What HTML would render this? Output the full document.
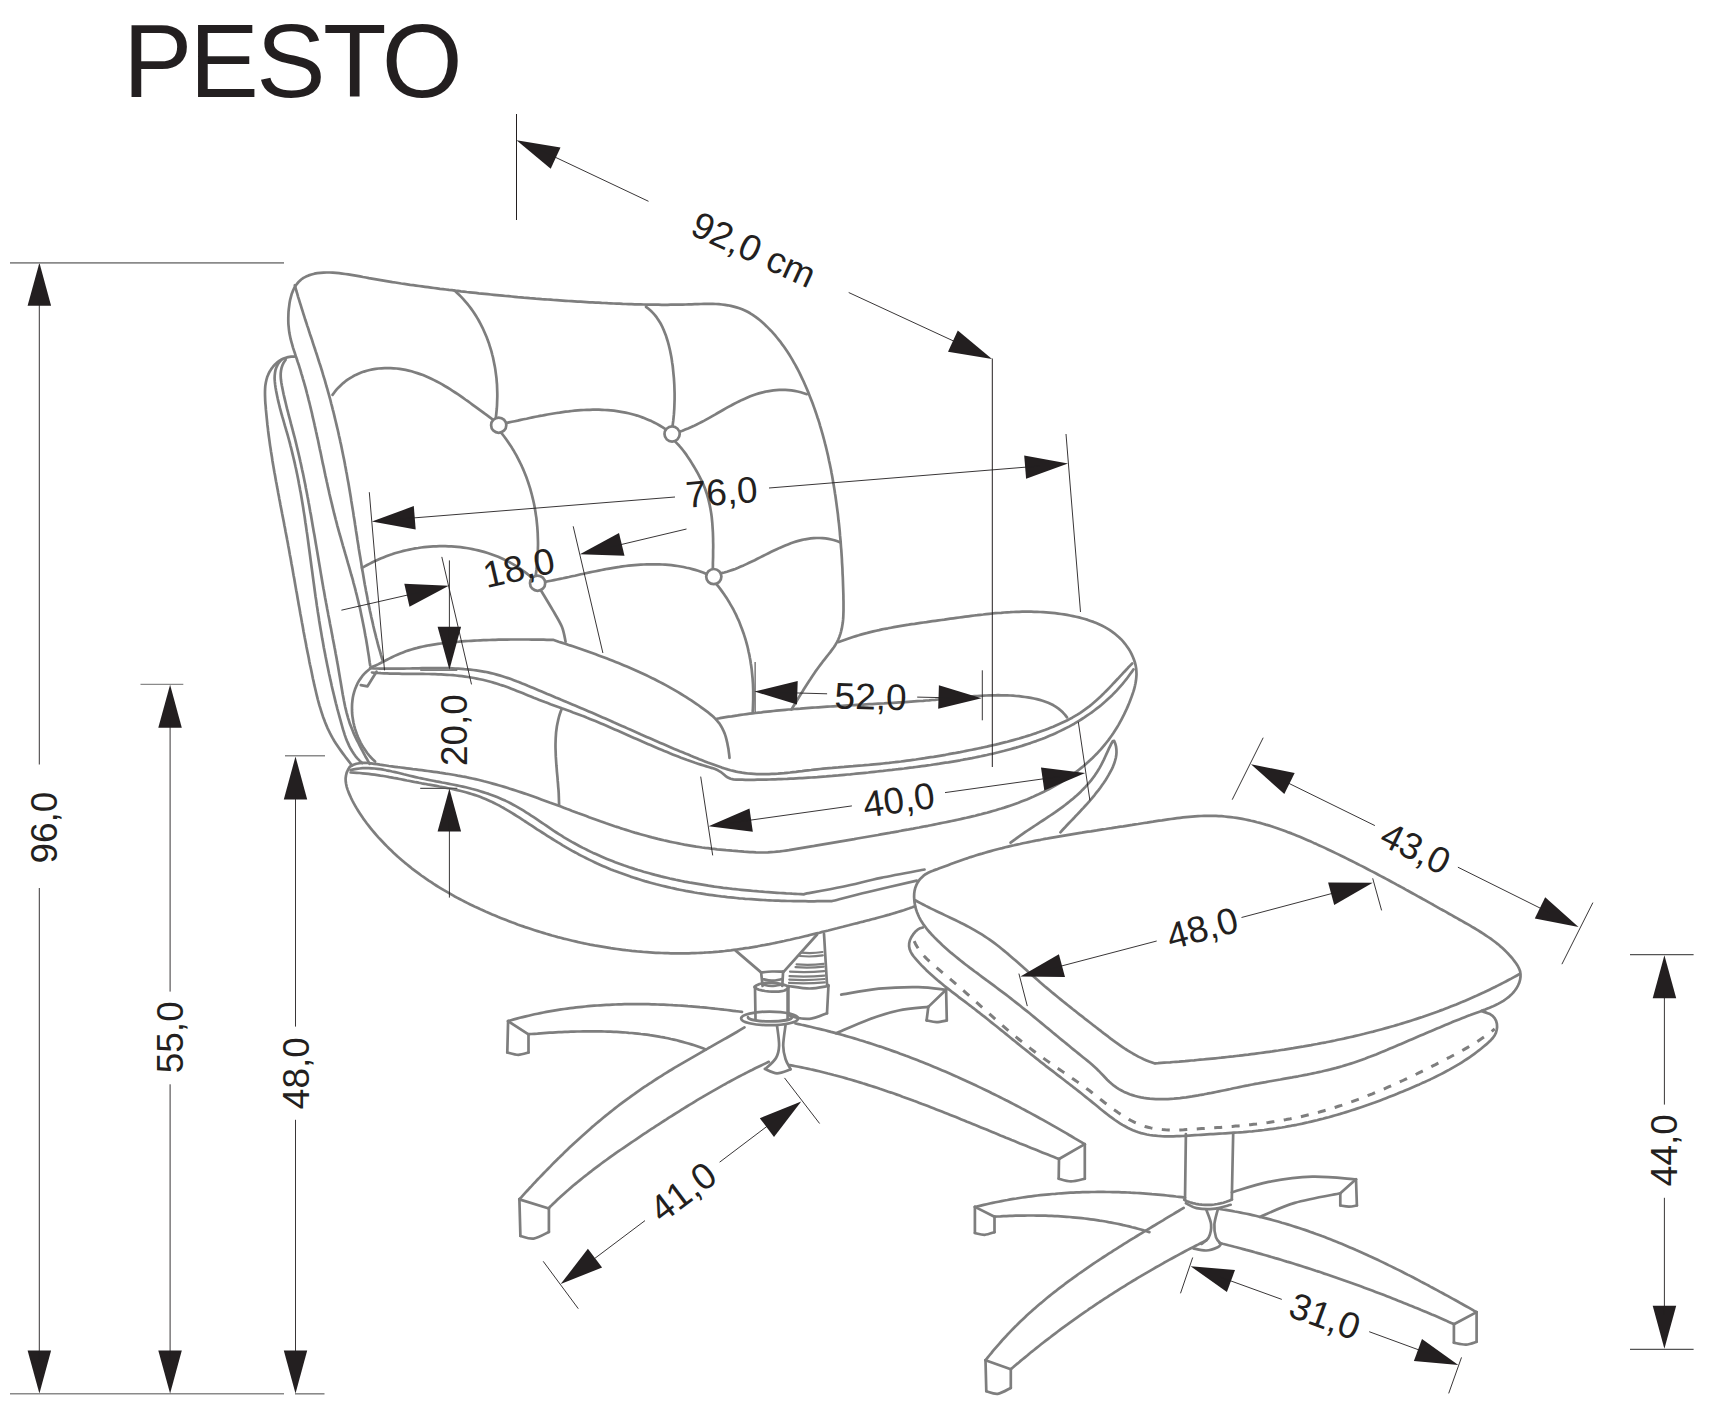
<!DOCTYPE html>
<html><head><meta charset="utf-8"><style>
html,body{margin:0;padding:0;background:#fff;overflow:hidden;width:1717px;height:1424px;}
svg{display:block;font-family:"Liberation Sans",sans-serif;}
</style></head><body>
<svg width="1717" height="1424" viewBox="0 0 1717 1424">
<rect width="1717" height="1424" fill="#fff"/>
<g id="chair" fill="none" stroke="#7e7e7e" stroke-width="2.7" stroke-linecap="round" stroke-linejoin="round">
<path d="M370.2,665.5 L369.7,662.5 L369.3,659.6 L368.9,656.6 L368.4,653.6 L367.9,650.6 L367.5,647.7 L367.0,644.7 L366.5,641.7 L366.0,638.8 L365.4,635.8 L364.9,632.9 L364.4,629.9 L363.8,627.0 L363.2,624.0 L362.6,621.1 L362.0,618.1 L361.4,615.2 L360.8,612.3 L360.2,609.3 L359.5,606.4 L358.8,603.5 L358.1,600.6 L357.4,597.7 L356.7,594.8 L355.9,591.8 L355.2,588.9 L354.4,586.0 L353.6,583.1 L352.9,580.2 L352.1,577.4 L351.2,574.5 L350.4,571.6 L349.6,568.7 L348.8,565.8 L347.9,562.9 L347.1,560.0 L346.3,557.1 L345.4,554.2 L344.6,551.4 L343.8,548.5 L342.9,545.6 L342.1,542.7 L341.3,539.8 L340.5,536.9 L339.6,534.0 L338.8,531.1 L338.0,528.2 L337.2,525.3 L336.5,522.4 L335.7,519.5 L335.0,516.6 L334.2,513.7 L333.5,510.8 L332.8,507.9 L332.1,504.9 L331.4,502.0 L330.7,499.1 L330.0,496.2 L329.3,493.2 L328.7,490.3 L328.0,487.4 L327.4,484.4 L326.7,481.5 L326.1,478.6 L325.4,475.6 L324.8,472.7 L324.2,469.7 L323.6,466.8 L322.9,463.9 L322.3,460.9 L321.7,458.0 L321.1,455.0 L320.5,452.1 L319.8,449.1 L319.2,446.2 L318.6,443.3 L318.0,440.3 L317.3,437.4 L316.7,434.4 L316.0,431.5 L315.4,428.6 L314.7,425.6 L314.1,422.7 L313.4,419.8 L312.7,416.9 L312.1,413.9 L311.4,411.0 L310.7,408.1 L310.0,405.2 L309.3,402.3 L308.5,399.3 L307.8,396.4 L307.0,393.5 L306.3,390.6 L305.5,387.7 L304.7,384.8 L303.9,382.0 L303.0,379.1 L302.2,376.2 L301.3,373.3 L300.5,370.4 L299.6,367.6 L298.7,364.7 L297.7,361.9 L296.8,359.0 L295.8,356.2 L294.9,353.3 L293.9,350.4 L293.0,347.6 L292.2,344.7 L291.4,341.8 L290.6,338.9 L290.0,336.0 L289.4,333.1 L289.0,330.1 L288.7,327.2 L288.4,324.1 L288.3,321.1 L288.3,318.1 L288.4,315.0 L288.5,312.0 L288.8,308.9 L289.2,305.8 L289.6,302.7 L290.2,299.6 L291.0,296.6 L291.8,293.7 L292.9,290.9 L294.1,288.3 L295.6,285.8 L297.3,283.5 L299.1,281.4 L301.2,279.5 L303.5,277.9 L306.0,276.6 L308.7,275.4 L311.5,274.5 L314.4,273.7 L317.3,273.2 L320.4,272.8 L323.5,272.6 L326.6,272.5 L329.7,272.5 L332.9,272.7 L336.0,272.9 L339.1,273.2 L342.2,273.6 L345.2,274.0 L348.3,274.4 L351.2,274.9 L354.2,275.4 L357.2,275.9 L360.1,276.4 L363.0,277.0 L366.0,277.5 L368.9,278.1 L371.8,278.6 L374.8,279.1 L377.7,279.6 L380.6,280.1 L383.6,280.6 L386.5,281.1 L389.5,281.6 L392.4,282.1 L395.4,282.5 L398.3,283.0 L401.3,283.5 L404.3,283.9 L407.2,284.3 L410.2,284.8 L413.2,285.2 L416.1,285.6 L419.1,286.0 L422.1,286.4 L425.1,286.8 L428.0,287.2 L431.0,287.6 L434.0,288.0 L437.0,288.4 L440.0,288.8 L443.0,289.1 L445.9,289.5 L448.9,289.9 L451.9,290.2 L454.9,290.6 L457.9,290.9 L460.9,291.3 L463.9,291.6 L466.8,292.0 L469.8,292.3 L472.8,292.6 L475.8,292.9 L478.8,293.3 L481.8,293.6 L484.8,293.9 L487.8,294.2 L490.8,294.5 L493.8,294.8 L496.8,295.1 L499.7,295.4 L502.7,295.7 L505.7,296.0 L508.7,296.2 L511.7,296.5 L514.7,296.8 L517.7,297.1 L520.7,297.3 L523.7,297.6 L526.7,297.8 L529.7,298.1 L532.7,298.3 L535.7,298.6 L538.7,298.8 L541.7,299.1 L544.7,299.3 L547.7,299.5 L550.7,299.7 L553.7,300.0 L556.7,300.2 L559.6,300.4 L562.6,300.6 L565.6,300.8 L568.6,301.0 L571.6,301.2 L574.6,301.4 L577.6,301.6 L580.6,301.7 L583.6,301.9 L586.6,302.1 L589.6,302.3 L592.6,302.4 L595.6,302.6 L598.6,302.7 L601.6,302.9 L604.6,303.0 L607.6,303.2 L610.6,303.3 L613.6,303.5 L616.6,303.6 L619.6,303.7 L622.6,303.9 L625.6,304.0 L628.6,304.1 L631.6,304.2 L634.6,304.3 L637.6,304.4 L640.6,304.4 L643.6,304.5 L646.6,304.6 L649.6,304.6 L652.6,304.7 L655.6,304.7 L658.6,304.7 L661.6,304.8 L664.6,304.8 L667.6,304.8 L670.7,304.7 L673.7,304.7 L676.7,304.7 L679.7,304.6 L682.7,304.6 L685.7,304.5 L688.8,304.4 L691.8,304.3 L694.8,304.2 L697.8,304.1 L700.9,304.0 L703.9,303.9 L706.9,303.8 L709.9,303.8 L712.9,303.9 L715.9,304.0 L718.9,304.2 L721.9,304.5 L724.9,304.8 L727.8,305.3 L730.8,305.9 L733.7,306.6 L736.5,307.4 L739.4,308.3 L742.1,309.3 L744.9,310.5 L747.5,311.8 L750.2,313.3 L752.7,314.9 L755.2,316.6 L757.6,318.4 L760.0,320.3 L762.3,322.3 L764.5,324.3 L766.7,326.4 L768.9,328.6 L771.0,330.7 L773.0,332.9 L775.0,335.2 L776.9,337.5 L778.8,339.8 L780.7,342.2 L782.4,344.6 L784.2,347.0 L785.9,349.5 L787.6,352.0 L789.2,354.5 L790.8,357.1 L792.3,359.6 L793.8,362.3 L795.3,364.9 L796.7,367.5 L798.1,370.2 L799.5,372.9 L800.8,375.6 L802.1,378.3 L803.4,381.0 L804.6,383.8 L805.8,386.5 L807.0,389.3 L808.2,392.1 L809.3,394.9 L810.4,397.7 L811.5,400.5 L812.6,403.3 L813.6,406.1 L814.6,408.9 L815.6,411.8 L816.6,414.6 L817.5,417.5 L818.5,420.3 L819.4,423.2 L820.2,426.1 L821.1,429.0 L821.9,431.8 L822.7,434.7 L823.5,437.6 L824.3,440.5 L825.0,443.4 L825.8,446.4 L826.5,449.3 L827.2,452.2 L827.9,455.1 L828.5,458.1 L829.1,461.0 L829.8,464.0 L830.4,466.9 L831.0,469.8 L831.5,472.8 L832.1,475.8 L832.6,478.7 L833.1,481.7 L833.6,484.6 L834.1,487.6 L834.6,490.6 L835.0,493.5 L835.5,496.5 L835.9,499.5 L836.3,502.4 L836.7,505.4 L837.1,508.4 L837.5,511.4 L837.9,514.3 L838.2,517.3 L838.5,520.3 L838.9,523.2 L839.2,526.2 L839.5,529.2 L839.8,532.2 L840.0,535.2 L840.3,538.2 L840.6,541.1 L840.8,544.1 L841.0,547.1 L841.3,550.1 L841.5,553.1 L841.7,556.1 L841.9,559.1 L842.0,562.1 L842.2,565.1 L842.4,568.1 L842.5,571.1 L842.6,574.2 L842.8,577.2 L842.9,580.2 L843.0,583.2 L843.1,586.3 L843.2,589.3 L843.3,592.3 L843.4,595.4 L843.4,598.4 L843.5,601.5 L843.5,604.5 L843.5,607.6 L843.5,610.6 L843.4,613.7 L843.3,616.7 L843.1,619.7 L842.8,622.6 L842.3,625.5 L841.8,628.4 L841.1,631.3 L840.3,634.1 L839.4,636.8 L838.3,639.5 L837.0,642.1 L835.5,644.7 L833.9,647.2 L832.1,649.6 L830.3,652.1 L828.4,654.5 L826.5,656.9 L824.6,659.3 L822.7,661.7 L820.9,664.1 L819.1,666.5 L817.3,669.0 L815.5,671.4 L813.8,673.9 L812.1,676.4 L810.5,678.9 L808.8,681.4 L807.2,683.9 L805.6,686.4 L804.0,689.0 L802.5,691.5 L800.9,694.0 L799.3,696.6 L797.8,699.1 L796.2,701.7 L794.7,704.3 L793.1,706.8 L791.5,709.4" />
<path d="M294.8,285.2 L295.6,288.1 L296.4,291.0 L297.3,293.9 L298.1,296.8 L299.0,299.7 L299.9,302.6 L300.8,305.4 L301.7,308.3 L302.6,311.2 L303.5,314.1 L304.4,316.9 L305.3,319.8 L306.3,322.7 L307.2,325.6 L308.2,328.4 L309.1,331.3 L310.0,334.2 L311.0,337.0 L312.0,339.9 L312.9,342.8 L313.8,345.6 L314.8,348.5 L315.7,351.4 L316.7,354.3 L317.6,357.1 L318.5,360.0 L319.4,362.9 L320.4,365.8 L321.3,368.6 L322.2,371.5 L323.0,374.4 L323.9,377.3 L324.8,380.2 L325.6,383.1 L326.4,386.0 L327.3,388.9 L328.1,391.8 L328.9,394.7 L329.7,397.6 L330.5,400.5 L331.2,403.5 L332.0,406.4 L332.7,409.3 L333.5,412.2 L334.2,415.1 L334.9,418.1 L335.6,421.0 L336.3,423.9 L337.0,426.9 L337.7,429.8 L338.4,432.8 L339.0,435.7 L339.7,438.6 L340.3,441.6 L341.0,444.5 L341.6,447.5 L342.2,450.4 L342.8,453.4 L343.4,456.4 L344.0,459.3 L344.6,462.3 L345.1,465.2 L345.7,468.2 L346.2,471.2 L346.8,474.1 L347.3,477.1 L347.8,480.1 L348.4,483.1 L348.9,486.0 L349.4,489.0 L349.9,492.0 L350.4,495.0 L350.9,498.0 L351.3,500.9 L351.8,503.9 L352.3,506.9 L352.8,509.9 L353.3,512.9 L353.7,515.9 L354.2,518.8 L354.7,521.8 L355.1,524.8 L355.6,527.8 L356.0,530.8 L356.5,533.8 L357.0,536.8 L357.4,539.7 L357.9,542.7 L358.4,545.7 L358.8,548.7 L359.3,551.7 L359.8,554.7 L360.3,557.6 L360.8,560.6 L361.3,563.6 L361.7,566.6 L362.2,569.6 L362.8,572.5 L363.3,575.5 L363.8,578.5 L364.3,581.5 L364.8,584.4 L365.4,587.4 L365.9,590.4 L366.5,593.3 L367.1,596.3 L367.6,599.3 L368.2,602.2 L368.8,605.2 L369.4,608.1 L370.0,611.1 L370.7,614.0 L371.3,617.0 L372.0,619.9 L372.7,622.9 L373.3,625.8 L374.0,628.8 L374.7,631.7 L375.5,634.6 L376.2,637.6 L377.0,640.5 L377.7,643.4 L378.5,646.3 L379.3,649.2 L380.2,652.1 L381.0,655.1 L381.9,658.0 L382.8,660.9" />
<path d="M294.5,356.6 L291.2,356.6 L288.1,357.1 L285.1,358.0 L282.3,359.1 L279.6,360.7 L277.2,362.4 L275.0,364.5 L273.0,366.7 L271.2,369.1 L269.6,371.7 L268.3,374.4 L267.2,377.1 L266.4,379.9 L265.8,382.8 L265.3,385.7 L265.1,388.6 L265.0,391.6 L265.0,394.6 L265.1,397.6 L265.2,400.6 L265.4,403.6 L265.7,406.7 L265.9,409.7 L266.2,412.7 L266.5,415.7 L266.8,418.7 L267.1,421.7 L267.4,424.7 L267.8,427.7 L268.1,430.7 L268.5,433.7 L268.9,436.7 L269.3,439.6 L269.7,442.6 L270.1,445.6 L270.6,448.6 L271.0,451.5 L271.5,454.5 L272.0,457.5 L272.4,460.5 L272.9,463.4 L273.4,466.4 L273.9,469.3 L274.4,472.3 L275.0,475.3 L275.5,478.2 L276.0,481.2 L276.6,484.1 L277.1,487.1 L277.7,490.0 L278.2,493.0 L278.8,495.9 L279.3,498.9 L279.9,501.8 L280.4,504.8 L281.0,507.7 L281.6,510.7 L282.1,513.6 L282.7,516.6 L283.3,519.5 L283.9,522.5 L284.4,525.4 L285.0,528.3 L285.5,531.3 L286.1,534.2 L286.7,537.2 L287.2,540.1 L287.8,543.1 L288.3,546.0 L288.9,549.0 L289.4,551.9 L289.9,554.9 L290.5,557.8 L291.0,560.8 L291.5,563.7 L292.1,566.7 L292.6,569.6 L293.1,572.6 L293.6,575.5 L294.2,578.5 L294.7,581.5 L295.2,584.4 L295.7,587.4 L296.2,590.3 L296.8,593.3 L297.3,596.2 L297.8,599.2 L298.3,602.1 L298.8,605.1 L299.4,608.1 L299.9,611.0 L300.4,614.0 L301.0,616.9 L301.5,619.9 L302.0,622.8 L302.6,625.8 L303.1,628.7 L303.6,631.7 L304.2,634.7 L304.7,637.6 L305.3,640.6 L305.9,643.5 L306.4,646.5 L307.0,649.4 L307.6,652.4 L308.2,655.3 L308.8,658.3 L309.3,661.2 L309.9,664.2 L310.6,667.2 L311.2,670.1 L311.8,673.1 L312.4,676.0 L313.0,679.0 L313.7,681.9 L314.3,684.9 L315.0,687.8 L315.7,690.7 L316.4,693.7 L317.1,696.6 L317.8,699.5 L318.6,702.4 L319.4,705.3 L320.3,708.2 L321.2,711.1 L322.1,713.9 L323.0,716.7 L324.1,719.5 L325.1,722.3 L326.3,725.1 L327.4,727.8 L328.7,730.5 L330.0,733.2 L331.4,735.8 L332.8,738.4 L334.3,741.0 L335.9,743.5 L337.6,746.0 L339.3,748.5 L341.0,750.9 L342.8,753.4 L344.6,755.8 L346.4,758.2 L348.3,760.6 L350.1,763.0 L351.8,765.4" />
<path d="M281.5,359.7 L279.4,362.1 L277.7,364.6 L276.4,367.3 L275.5,370.0 L275.0,372.8 L274.7,375.6 L274.6,378.5 L274.8,381.4 L275.1,384.4 L275.5,387.3 L276.0,390.3 L276.6,393.2 L277.2,396.2 L277.8,399.1 L278.5,402.1 L279.2,405.0 L279.9,407.9 L280.7,410.8 L281.5,413.8 L282.3,416.7 L283.2,419.6 L284.0,422.5 L284.8,425.4 L285.7,428.3 L286.5,431.2 L287.4,434.1 L288.2,437.0 L289.0,440.0 L289.8,442.9 L290.5,445.8 L291.3,448.7 L292.0,451.6 L292.7,454.6 L293.4,457.5 L294.1,460.4 L294.8,463.4 L295.4,466.3 L296.1,469.2 L296.7,472.2 L297.3,475.1 L297.9,478.1 L298.5,481.0 L299.0,484.0 L299.6,486.9 L300.1,489.9 L300.7,492.8 L301.2,495.8 L301.7,498.8 L302.2,501.7 L302.7,504.7 L303.2,507.7 L303.6,510.6 L304.1,513.6 L304.6,516.6 L305.0,519.5 L305.4,522.5 L305.9,525.5 L306.3,528.4 L306.7,531.4 L307.2,534.4 L307.6,537.4 L308.0,540.3 L308.4,543.3 L308.8,546.3 L309.2,549.3 L309.6,552.3 L310.0,555.2 L310.4,558.2 L310.8,561.2 L311.2,564.2 L311.6,567.2 L312.0,570.1 L312.4,573.1 L312.8,576.1 L313.2,579.1 L313.6,582.1 L314.0,585.0 L314.4,588.0 L314.8,591.0 L315.2,594.0 L315.6,597.0 L316.1,599.9 L316.5,602.9 L316.9,605.9 L317.4,608.9 L317.8,611.8 L318.3,614.8 L318.8,617.8 L319.2,620.8 L319.7,623.7 L320.2,626.7 L320.7,629.7 L321.2,632.6 L321.7,635.6 L322.2,638.6 L322.8,641.5 L323.3,644.5 L323.8,647.4 L324.4,650.4 L325.0,653.4 L325.5,656.3 L326.1,659.3 L326.7,662.2 L327.3,665.2 L327.9,668.1 L328.5,671.1 L329.1,674.0 L329.8,676.9 L330.4,679.9 L331.1,682.8 L331.7,685.7 L332.4,688.7 L333.1,691.6 L333.8,694.5 L334.5,697.4 L335.2,700.4 L335.9,703.3 L336.7,706.2 L337.4,709.1 L338.2,712.0 L339.0,714.9 L339.8,717.8 L340.6,720.7 L341.4,723.6 L342.2,726.5 L343.0,729.4 L343.9,732.2 L344.8,735.1 L345.8,737.9 L346.9,740.7 L348.1,743.4 L349.3,746.1 L350.7,748.8 L352.2,751.3 L353.8,753.8 L355.6,756.3 L357.6,758.6 L359.8,760.9 L362.1,763.1" />
<path d="M285.6,359.8 L283.8,362.4 L282.5,365.1 L281.6,367.8 L281.0,370.6 L280.7,373.5 L280.7,376.4 L280.9,379.3 L281.3,382.3 L281.8,385.3 L282.4,388.3 L283.0,391.2 L283.6,394.2 L284.3,397.1 L285.0,400.1 L285.7,403.0 L286.4,406.0 L287.1,408.9 L287.9,411.8 L288.6,414.7 L289.4,417.6 L290.2,420.5 L290.9,423.4 L291.7,426.4 L292.5,429.3 L293.2,432.2 L294.0,435.1 L294.8,438.0 L295.5,440.9 L296.2,443.8 L296.9,446.7 L297.6,449.6 L298.3,452.5 L299.0,455.5 L299.7,458.4 L300.3,461.3 L301.0,464.3 L301.6,467.2 L302.2,470.1 L302.9,473.1 L303.5,476.0 L304.1,478.9 L304.7,481.9 L305.3,484.8 L305.8,487.8 L306.4,490.7 L307.0,493.7 L307.5,496.6 L308.1,499.6 L308.6,502.5 L309.2,505.5 L309.7,508.4 L310.2,511.4 L310.8,514.3 L311.3,517.3 L311.8,520.3 L312.3,523.2 L312.8,526.2 L313.3,529.1 L313.8,532.1 L314.4,535.1 L314.9,538.0 L315.4,541.0 L315.9,543.9 L316.4,546.9 L316.9,549.9 L317.4,552.8 L317.9,555.8 L318.4,558.8 L318.9,561.7 L319.4,564.7 L319.9,567.6 L320.4,570.6 L320.9,573.6 L321.4,576.5 L321.9,579.5 L322.4,582.4 L322.9,585.4 L323.4,588.3 L324.0,591.3 L324.5,594.3 L325.0,597.2 L325.6,600.2 L326.1,603.1 L326.7,606.1 L327.2,609.0 L327.8,611.9 L328.3,614.9 L328.9,617.8 L329.5,620.8 L330.0,623.7 L330.6,626.7 L331.2,629.6 L331.7,632.6 L332.3,635.5 L332.8,638.5 L333.4,641.4 L334.0,644.4 L334.5,647.3 L335.1,650.3 L335.6,653.2 L336.2,656.2 L336.7,659.1 L337.2,662.1 L337.8,665.0 L338.3,668.0 L338.8,671.0 L339.3,673.9 L339.8,676.9 L340.3,679.9 L340.8,682.8 L341.3,685.8 L341.8,688.8 L342.3,691.7 L342.8,694.7 L343.4,697.7 L343.9,700.6 L344.5,703.6 L345.1,706.5 L345.8,709.4 L346.5,712.3 L347.3,715.2 L348.1,718.1 L349.0,720.9 L349.9,723.8 L351.0,726.6 L352.1,729.3 L353.2,732.1 L354.4,734.9 L355.7,737.6 L357.0,740.3 L358.4,743.0 L359.7,745.6 L361.1,748.3 L362.5,750.9 L363.9,753.6 L365.3,756.2 L366.8,758.7 L368.2,761.3 L369.6,763.8" />
<path d="M332.5,394.9 L334.5,392.2 L336.5,389.7 L338.6,387.4 L340.9,385.2 L343.2,383.1 L345.5,381.2 L348.0,379.4 L350.5,377.8 L353.1,376.3 L355.7,374.9 L358.4,373.7 L361.2,372.6 L364.0,371.6 L366.8,370.7 L369.7,370.0 L372.6,369.4 L375.6,368.9 L378.6,368.5 L381.5,368.3 L384.6,368.1 L387.6,368.1 L390.6,368.1 L393.6,368.3 L396.6,368.5 L399.6,368.9 L402.6,369.4 L405.6,369.9 L408.6,370.6 L411.5,371.3 L414.4,372.2 L417.3,373.1 L420.2,374.1 L423.0,375.1 L425.8,376.3 L428.6,377.5 L431.3,378.8 L434.1,380.1 L436.8,381.5 L439.5,382.9 L442.2,384.4 L444.8,386.0 L447.4,387.5 L450.1,389.2 L452.6,390.8 L455.2,392.5 L457.8,394.2 L460.3,395.9 L462.8,397.7 L465.3,399.5 L467.8,401.2 L470.3,403.0 L472.7,404.8 L475.2,406.6 L477.6,408.4 L480.0,410.2 L482.4,411.9 L484.8,413.7 L487.2,415.4 L489.5,417.1 L491.9,418.8" />
<path d="M454.6,290.6 L456.9,292.7 L459.1,294.8 L461.2,296.9 L463.3,299.1 L465.2,301.3 L467.2,303.6 L469.1,306.0 L470.9,308.4 L472.6,310.8 L474.3,313.3 L475.9,315.8 L477.5,318.4 L479.0,321.0 L480.4,323.6 L481.8,326.3 L483.1,329.0 L484.3,331.7 L485.5,334.5 L486.7,337.3 L487.7,340.1 L488.8,342.9 L489.7,345.8 L490.6,348.7 L491.5,351.6 L492.2,354.5 L493.0,357.5 L493.6,360.5 L494.2,363.4 L494.8,366.4 L495.3,369.4 L495.7,372.4 L496.1,375.4 L496.5,378.4 L496.7,381.5 L497.0,384.5 L497.1,387.5 L497.2,390.5 L497.3,393.6 L497.3,396.6 L497.2,399.6 L497.1,402.6 L497.0,405.6 L496.8,408.5 L496.5,411.5 L496.2,414.5 L495.9,417.4" />
<path d="M506.1,423.1 L509.0,422.4 L511.9,421.8 L514.8,421.2 L517.7,420.6 L520.7,419.9 L523.6,419.3 L526.6,418.7 L529.6,418.0 L532.5,417.4 L535.5,416.8 L538.5,416.2 L541.5,415.7 L544.5,415.1 L547.5,414.5 L550.5,414.0 L553.5,413.5 L556.6,413.0 L559.6,412.6 L562.6,412.1 L565.6,411.7 L568.7,411.4 L571.7,411.0 L574.7,410.7 L577.8,410.4 L580.8,410.2 L583.8,410.0 L586.8,409.9 L589.8,409.8 L592.9,409.7 L595.9,409.7 L598.9,409.7 L601.9,409.8 L604.9,410.0 L607.8,410.2 L610.8,410.4 L613.8,410.7 L616.8,411.1 L619.7,411.6 L622.6,412.1 L625.6,412.6 L628.5,413.3 L631.4,414.0 L634.3,414.8 L637.2,415.6 L640.0,416.6 L642.9,417.6 L645.7,418.7 L648.6,419.9 L651.4,421.1 L654.1,422.5 L656.9,423.9 L659.7,425.5 L662.4,427.1 L665.1,428.8" />
<path d="M646.0,306.9 L648.5,308.8 L650.8,310.8 L652.9,312.9 L654.9,315.1 L656.7,317.4 L658.4,319.9 L660.0,322.4 L661.4,325.0 L662.7,327.7 L663.9,330.4 L665.0,333.2 L666.1,336.1 L667.0,339.0 L667.9,341.9 L668.7,344.8 L669.4,347.8 L670.1,350.8 L670.7,353.8 L671.3,356.8 L671.8,359.9 L672.2,362.9 L672.7,366.0 L673.0,369.0 L673.3,372.1 L673.6,375.1 L673.9,378.2 L674.1,381.2 L674.3,384.3 L674.4,387.3 L674.5,390.3 L674.6,393.3 L674.6,396.4 L674.6,399.4 L674.5,402.4 L674.4,405.4 L674.3,408.4 L674.1,411.4 L673.9,414.4 L673.6,417.4 L673.3,420.4 L672.9,423.4 L672.5,426.5" />
<path d="M679.7,431.6 L682.5,430.7 L685.2,429.6 L688.0,428.5 L690.8,427.3 L693.5,426.1 L696.2,424.8 L698.9,423.4 L701.6,422.0 L704.3,420.6 L707.0,419.1 L709.7,417.6 L712.3,416.1 L715.0,414.6 L717.7,413.0 L720.4,411.5 L723.0,410.0 L725.7,408.4 L728.4,406.9 L731.1,405.5 L733.8,404.0 L736.5,402.6 L739.3,401.2 L742.0,399.9 L744.8,398.7 L747.5,397.5 L750.3,396.3 L753.1,395.3 L756.0,394.3 L758.8,393.4 L761.7,392.6 L764.6,391.9 L767.5,391.3 L770.4,390.8 L773.4,390.4 L776.3,390.1 L779.3,389.9 L782.3,389.8 L785.3,389.9 L788.4,390.1 L791.4,390.4 L794.5,390.9 L797.6,391.5 L800.7,392.3 L803.8,393.2 L806.9,394.2" />
<path d="M501.1,432.6 L503.0,435.0 L504.9,437.5 L506.7,440.0 L508.4,442.5 L510.1,445.0 L511.8,447.6 L513.4,450.2 L514.9,452.8 L516.4,455.4 L517.8,458.1 L519.2,460.8 L520.5,463.5 L521.8,466.2 L523.0,468.9 L524.2,471.7 L525.3,474.5 L526.4,477.3 L527.4,480.1 L528.4,483.0 L529.3,485.8 L530.2,488.7 L531.0,491.6 L531.8,494.5 L532.5,497.4 L533.2,500.3 L533.9,503.3 L534.5,506.2 L535.0,509.2 L535.5,512.2 L535.9,515.1 L536.4,518.1 L536.7,521.1 L537.0,524.1 L537.3,527.1 L537.5,530.2 L537.7,533.2 L537.8,536.2 L537.9,539.2 L538.0,542.3 L538.0,545.3 L537.9,548.3 L537.9,551.3 L537.7,554.4 L537.6,557.4 L537.4,560.4 L537.1,563.5 L536.8,566.5 L536.5,569.5 L536.1,572.5 L535.7,575.5" />
<path d="M675.1,441.4 L677.2,443.6 L679.3,445.8 L681.3,448.1 L683.2,450.5 L685.0,452.9 L686.8,455.4 L688.5,457.9 L690.2,460.5 L691.8,463.1 L693.4,465.7 L695.0,468.4 L696.5,471.0 L698.0,473.7 L699.4,476.4 L700.8,479.1 L702.2,481.9 L703.4,484.6 L704.6,487.5 L705.6,490.3 L706.6,493.2 L707.5,496.1 L708.3,499.0 L709.0,501.9 L709.7,504.9 L710.3,507.9 L710.8,510.9 L711.3,513.9 L711.7,516.9 L712.0,520.0 L712.3,523.1 L712.5,526.1 L712.7,529.2 L712.9,532.3 L713.0,535.4 L713.1,538.5 L713.1,541.5 L713.2,544.6 L713.2,547.7 L713.1,550.8 L713.1,553.9 L713.1,556.9 L713.0,560.0 L712.9,563.0 L712.9,566.0 L712.8,569.0" />
<path d="M362.1,567.9 L364.7,566.4 L367.2,565.0 L369.9,563.6 L372.5,562.2 L375.2,560.9 L377.9,559.7 L380.6,558.5 L383.4,557.4 L386.2,556.3 L389.0,555.2 L391.9,554.3 L394.7,553.3 L397.6,552.5 L400.5,551.7 L403.4,550.9 L406.4,550.2 L409.3,549.6 L412.3,549.0 L415.2,548.4 L418.2,548.0 L421.2,547.5 L424.2,547.2 L427.2,546.9 L430.2,546.6 L433.3,546.4 L436.3,546.3 L439.3,546.2 L442.3,546.1 L445.4,546.2 L448.4,546.3 L451.4,546.4 L454.4,546.6 L457.4,546.9 L460.5,547.2 L463.4,547.6 L466.4,548.0 L469.4,548.5 L472.4,549.1 L475.3,549.7 L478.2,550.4 L481.1,551.1 L484.0,551.9 L486.9,552.8 L489.8,553.7 L492.6,554.7 L495.4,555.7 L498.2,556.8 L500.9,558.0 L503.6,559.3 L506.3,560.6 L509.0,561.9 L511.6,563.4 L514.2,564.9 L516.7,566.4 L519.3,568.1 L521.7,569.8 L524.2,571.5 L526.6,573.4 L528.9,575.3 L531.2,577.2" />
<path d="M545.0,581.9 L548.0,581.3 L551.0,580.7 L554.0,580.1 L557.0,579.5 L560.0,578.9 L563.0,578.3 L566.0,577.6 L568.9,577.0 L571.9,576.3 L574.9,575.7 L577.9,575.0 L580.8,574.3 L583.8,573.7 L586.8,573.0 L589.7,572.4 L592.7,571.8 L595.7,571.2 L598.6,570.6 L601.6,570.0 L604.6,569.4 L607.6,568.8 L610.6,568.3 L613.5,567.8 L616.5,567.3 L619.5,566.9 L622.5,566.4 L625.6,566.0 L628.6,565.7 L631.6,565.4 L634.6,565.1 L637.7,564.8 L640.7,564.6 L643.8,564.5 L646.9,564.3 L649.9,564.3 L653.0,564.3 L656.1,564.3 L659.2,564.4 L662.2,564.5 L665.3,564.7 L668.4,564.9 L671.4,565.2 L674.5,565.6 L677.5,566.0 L680.5,566.5 L683.5,567.0 L686.5,567.7 L689.4,568.3 L692.3,569.1 L695.2,569.9 L698.1,570.7 L700.9,571.7 L703.7,572.8 L706.4,574.0" />
<path d="M721.4,573.1 L724.2,572.5 L727.0,571.7 L729.8,570.8 L732.5,569.9 L735.3,568.9 L738.1,567.8 L740.8,566.6 L743.6,565.4 L746.4,564.1 L749.1,562.8 L751.9,561.5 L754.7,560.2 L757.4,558.8 L760.2,557.4 L762.9,556.0 L765.7,554.6 L768.5,553.2 L771.3,551.8 L774.0,550.5 L776.8,549.2 L779.6,547.9 L782.4,546.7 L785.2,545.5 L788.0,544.4 L790.8,543.3 L793.7,542.3 L796.5,541.4 L799.3,540.6 L802.2,539.9 L805.1,539.3 L807.9,538.8 L810.8,538.4 L813.7,538.1 L816.7,538.0 L819.6,538.0 L822.5,538.1 L825.5,538.4 L828.5,538.9 L831.4,539.5 L834.4,540.3 L837.5,541.3 L840.5,542.4" />
<path d="M541.0,590.5C542.9,593.7 549.1,603.9 552.6,609.9C556.1,615.9 559.7,621.5 561.9,626.8C564.1,632.1 565.0,639.3 565.6,641.8" />
<path d="M716.6,584.3 L718.5,586.7 L720.4,589.1 L722.2,591.6 L723.9,594.0 L725.6,596.6 L727.3,599.1 L728.9,601.7 L730.4,604.3 L731.9,606.9 L733.4,609.5 L734.7,612.2 L736.1,614.9 L737.3,617.6 L738.6,620.3 L739.7,623.1 L740.8,625.9 L741.9,628.7 L742.9,631.5 L743.9,634.3 L744.8,637.2 L745.7,640.0 L746.5,642.9 L747.3,645.8 L748.0,648.7 L748.6,651.7 L749.3,654.6 L749.8,657.5 L750.4,660.5 L750.8,663.5 L751.3,666.5 L751.7,669.5 L752.0,672.5 L752.3,675.5 L752.6,678.5 L752.8,681.5 L753.0,684.5 L753.1,687.5 L753.2,690.5 L753.2,693.6 L753.2,696.6 L753.2,699.6 L753.1,702.7 L753.0,705.7 L752.9,708.7 L752.7,711.7" />
<path d="M370.2,667.8 L373.0,666.6 L375.7,665.4 L378.5,664.1 L381.2,662.7 L383.9,661.4 L386.5,660.0 L389.2,658.6 L391.9,657.2 L394.7,655.9 L397.4,654.7 L400.2,653.5 L403.0,652.4 L405.8,651.3 L408.6,650.4 L411.5,649.5 L414.4,648.6 L417.3,647.9 L420.2,647.1 L423.1,646.5 L426.0,645.9 L429.0,645.3 L432.0,644.8 L435.0,644.3 L438.0,643.9 L441.0,643.5 L444.0,643.1 L447.0,642.8 L450.0,642.5 L453.0,642.2 L456.1,641.9 L459.1,641.7 L462.1,641.4 L465.1,641.2 L468.2,641.0 L471.2,640.8 L474.2,640.6 L477.2,640.5 L480.3,640.3 L483.3,640.2 L486.3,640.1 L489.3,640.0 L492.4,639.9 L495.4,639.8 L498.4,639.7 L501.4,639.7 L504.5,639.6 L507.5,639.6 L510.5,639.5 L513.5,639.5 L516.5,639.5 L519.6,639.5 L522.6,639.5 L525.6,639.5 L528.6,639.5 L531.7,639.6 L534.7,639.6 L537.7,639.6 L540.7,639.7 L543.7,639.7 L546.8,639.8 L549.8,639.8 L552.8,639.9 M553.0,639.8 L555.8,640.7 L558.6,641.7 L561.5,642.6 L564.3,643.5 L567.2,644.4 L570.0,645.4 L572.9,646.3 L575.7,647.3 L578.6,648.3 L581.5,649.3 L584.3,650.2 L587.2,651.3 L590.0,652.3 L592.9,653.3 L595.7,654.3 L598.6,655.4 L601.4,656.4 L604.3,657.5 L607.1,658.6 L610.0,659.7 L612.8,660.8 L615.6,661.9 L618.5,663.1 L621.3,664.2 L624.1,665.4 L626.9,666.6 L629.7,667.8 L632.5,669.0 L635.3,670.2 L638.1,671.5 L640.8,672.7 L643.6,674.0 L646.4,675.3 L649.1,676.6 L651.8,678.0 L654.6,679.3 L657.3,680.7 L660.0,682.1 L662.7,683.5 L665.3,684.9 L668.0,686.4 L670.6,687.9 L673.3,689.4 L675.9,690.9 L678.5,692.4 L681.1,694.0 L683.7,695.6 L686.2,697.2 L688.8,698.8 L691.3,700.4 L693.8,702.1 L696.3,703.8 L698.8,705.5 L701.2,707.3 L703.7,709.1 L706.1,710.9 L708.5,712.7 L710.8,714.6 L713.1,716.5 L715.2,718.6 L717.2,720.8 L719.1,723.1 L720.7,725.5 L722.2,728.1 L723.5,730.8 L724.7,733.6 L725.7,736.6 L726.5,739.6 L727.2,742.6 L727.8,745.7 L728.4,748.7 L728.8,751.8 L729.2,754.8 L729.5,757.8" />
<path d="M371.0,668.2 L373.9,668.4 L376.9,668.5 L379.8,668.6 L382.8,668.7 L385.8,668.7 L388.8,668.7 L391.8,668.7 L394.8,668.7 L397.8,668.7 L400.8,668.6 L403.8,668.6 L406.9,668.5 L409.9,668.5 L412.9,668.4 L416.0,668.3 L419.0,668.3 L422.0,668.2 L425.1,668.2 L428.1,668.1 L431.1,668.1 L434.2,668.1 L437.2,668.1 L440.2,668.1 L443.3,668.1 L446.3,668.2 L449.3,668.2 L452.3,668.3 L455.3,668.5 L458.3,668.6 L461.3,668.8 L464.3,669.1 L467.3,669.3 L470.3,669.6 L473.3,670.0 L476.2,670.4 L479.2,670.8 L482.1,671.3 L485.0,671.8 L488.0,672.4 L490.9,673.1 L493.8,673.8 L496.7,674.6 L499.5,675.4 L502.4,676.3 L505.3,677.2 L508.1,678.1 L510.9,679.1 L513.8,680.2 L516.6,681.3 L519.4,682.3 L522.2,683.5 L525.0,684.6 L527.8,685.8 L530.6,686.9 L533.4,688.1 L536.2,689.3 L539.0,690.5 L541.7,691.6 L544.5,692.8 L547.3,694.0 L550.1,695.1 L552.9,696.3 L555.6,697.5 L558.4,698.6 L561.2,699.8 L564.0,700.9 L566.7,702.1 L569.5,703.2 L572.3,704.4 L575.0,705.5 L577.8,706.7 L580.6,707.9 L583.3,709.0 L586.1,710.2 L588.8,711.4 L591.6,712.6 L594.4,713.8 L597.1,715.0 L599.9,716.2 L602.6,717.4 L605.4,718.6 L608.1,719.8 L610.9,721.0 L613.6,722.3 L616.4,723.5 L619.1,724.7 L621.9,725.9 L624.6,727.1 L627.4,728.4 L630.1,729.6 L632.9,730.8 L635.6,732.0 L638.4,733.2 L641.1,734.5 L643.9,735.7 L646.6,736.9 L649.4,738.1 L652.2,739.3 L654.9,740.5 L657.7,741.7 L660.4,742.9 L663.2,744.1 L666.0,745.3 L668.7,746.5 L671.5,747.7 L674.3,748.9 L677.0,750.0 L679.8,751.2 L682.6,752.3 L685.4,753.5 L688.2,754.6 L690.9,755.8 L693.7,756.9 L696.5,758.0 L699.3,759.2 L702.1,760.3 L704.9,761.4 L707.7,762.5 L710.5,763.5 L713.4,764.6 L716.2,765.6 L719.0,766.6 L721.8,767.6 L724.7,768.5 L727.6,769.4 L730.4,770.2 L733.3,770.9 L736.2,771.6 L739.1,772.2 L742.1,772.7 L745.0,773.1 L748.0,773.5 L750.9,773.7 L753.9,773.9 L756.9,774.1 L759.9,774.2 L762.9,774.2 L765.9,774.2 L768.9,774.1 L771.9,773.9 L774.9,773.8 L777.9,773.6 L780.9,773.3 L784.0,773.1 L787.0,772.8 L790.0,772.5 L793.0,772.1 L796.0,771.8 L799.0,771.4 L802.1,771.1 L805.1,770.7 L808.1,770.3 L811.1,770.0 L814.1,769.6 L817.1,769.3 L820.1,769.0 L823.1,768.7 L826.2,768.4 L829.2,768.1 L832.2,767.9 L835.2,767.6 L838.2,767.4 L841.2,767.1 L844.1,766.9 L847.1,766.6 L850.1,766.4 L853.1,766.2 L856.1,765.9 L859.1,765.7 L862.1,765.5 L865.1,765.2 L868.1,765.0 L871.1,764.7 L874.0,764.4 L877.0,764.1 L880.0,763.8 L883.0,763.5 L886.0,763.2 L889.0,762.9 L892.0,762.5 L894.9,762.2 L897.9,761.8 L900.9,761.5 L903.9,761.1 L906.9,760.7 L909.8,760.3 L912.8,759.9 L915.8,759.5 L918.8,759.0 L921.7,758.6 L924.7,758.2 L927.7,757.7 L930.7,757.2 L933.6,756.8 L936.6,756.3 L939.6,755.8 L942.5,755.3 L945.5,754.8 L948.5,754.2 L951.4,753.7 L954.4,753.2 L957.4,752.6 L960.3,752.1 L963.3,751.5 L966.2,750.9 L969.2,750.3 L972.1,749.7 L975.1,749.1 L978.1,748.5 L981.0,747.9 L984.0,747.2 L986.9,746.6 L989.8,745.9 L992.8,745.2 L995.7,744.6 L998.7,743.9 L1001.6,743.1 L1004.5,742.4 L1007.4,741.7 L1010.4,740.9 L1013.3,740.1 L1016.2,739.3 L1019.1,738.5 L1022.0,737.6 L1024.8,736.8 L1027.7,735.9 L1030.6,735.0 L1033.4,734.0 L1036.3,733.1 L1039.1,732.1 L1041.9,731.0 L1044.8,730.0 L1047.6,728.9 L1050.4,727.8 L1053.2,726.7 L1055.9,725.5 L1058.7,724.3 L1061.4,723.1 L1064.2,721.8 L1066.9,720.5 L1069.5,719.1 L1072.2,717.7 L1074.8,716.2 L1077.4,714.7 L1079.9,713.1 L1082.4,711.4 L1084.8,709.7 L1087.2,707.9 L1089.6,706.1 L1091.9,704.2 L1094.2,702.2 L1096.5,700.2 L1098.7,698.2 L1100.9,696.2 L1103.1,694.1 L1105.2,691.9 L1107.4,689.8 L1109.5,687.6 L1111.6,685.4 L1113.6,683.2 L1115.7,681.0 L1117.8,678.8 L1119.8,676.6 L1121.9,674.4 L1123.9,672.2 L1126.0,670.0 L1128.0,667.8 L1130.1,665.6 L1132.2,663.5" />
<path d="M372.0,672.5 L375.0,672.8 L378.0,673.0 L381.0,673.2 L384.0,673.3 L387.0,673.4 L390.0,673.6 L393.0,673.6 L396.0,673.7 L399.0,673.7 L402.0,673.8 L405.0,673.8 L408.0,673.8 L411.0,673.8 L414.0,673.9 L417.0,673.9 L420.0,673.9 L423.0,673.9 L426.0,674.0 L429.0,674.0 L432.0,674.1 L435.0,674.2 L438.0,674.3 L441.0,674.4 L444.0,674.6 L447.0,674.8 L450.0,675.0 L453.0,675.2 L456.0,675.5 L459.0,675.8 L462.0,676.2 L465.0,676.6 L468.0,677.0 L470.9,677.5 L473.9,678.0 L476.8,678.6 L479.8,679.2 L482.7,679.8 L485.6,680.5 L488.5,681.2 L491.4,682.0 L494.3,682.9 L497.2,683.7 L500.0,684.7 L502.9,685.6 L505.7,686.6 L508.5,687.6 L511.3,688.7 L514.1,689.8 L516.9,690.9 L519.7,692.0 L522.5,693.1 L525.3,694.3 L528.1,695.4 L530.9,696.5 L533.7,697.7 L536.5,698.8 L539.3,699.9 L542.1,701.0 L544.9,702.1 L547.7,703.1 L550.5,704.2 L553.3,705.2 L556.1,706.2 L559.0,707.2 L561.8,708.3 L564.6,709.3 L567.4,710.3 L570.3,711.3 L573.1,712.4 L575.9,713.4 L578.7,714.5 L581.5,715.6 L584.3,716.6 L587.1,717.8 L589.9,718.9 L592.6,720.0 L595.4,721.1 L598.2,722.3 L601.0,723.5 L603.7,724.6 L606.5,725.8 L609.2,727.0 L612.0,728.2 L614.7,729.4 L617.5,730.6 L620.2,731.8 L623.0,733.0 L625.7,734.2 L628.5,735.5 L631.2,736.7 L634.0,737.9 L636.7,739.1 L639.5,740.3 L642.2,741.5 L645.0,742.7 L647.7,743.9 L650.5,745.1 L653.2,746.3 L656.0,747.5 L658.8,748.7 L661.5,749.8 L664.3,751.0 L667.1,752.1 L669.8,753.3 L672.6,754.4 L675.4,755.5 L678.2,756.6 L681.0,757.7 L683.8,758.7 L686.6,759.8 L689.4,760.8 L692.3,761.8 L695.1,762.8 L697.9,763.7 L700.8,764.6 L703.7,765.5 L706.5,766.4 L709.4,767.2 L712.3,768.1 L715.1,769.1 L717.9,770.3 L720.5,771.8 L723.0,773.7 L725.4,775.8 L727.9,777.6 L730.6,778.8 L733.4,779.4 L736.3,779.7 L739.3,779.7 L742.3,779.7 L745.3,779.8 L748.3,779.8 L751.3,779.8 L754.3,779.8 L757.2,779.7 L760.2,779.7 L763.2,779.6 L766.2,779.6 L769.2,779.5 L772.2,779.4 L775.2,779.3 L778.2,779.2 L781.2,779.1 L784.2,779.0 L787.2,778.9 L790.2,778.7 L793.2,778.6 L796.3,778.4 L799.3,778.2 L802.3,778.1 L805.3,777.9 L808.3,777.7 L811.3,777.5 L814.3,777.3 L817.3,777.1 L820.3,776.8 L823.3,776.6 L826.3,776.4 L829.3,776.1 L832.3,775.9 L835.3,775.6 L838.3,775.4 L841.3,775.1 L844.3,774.8 L847.3,774.5 L850.3,774.3 L853.3,774.0 L856.3,773.7 L859.3,773.4 L862.3,773.1 L865.3,772.8 L868.3,772.5 L871.3,772.1 L874.3,771.8 L877.2,771.5 L880.2,771.2 L883.2,770.9 L886.2,770.5 L889.2,770.2 L892.1,769.9 L895.1,769.5 L898.1,769.2 L901.1,768.8 L904.0,768.5 L907.0,768.1 L910.0,767.7 L912.9,767.4 L915.9,767.0 L918.8,766.6 L921.8,766.2 L924.8,765.8 L927.7,765.4 L930.7,765.0 L933.6,764.5 L936.6,764.1 L939.5,763.7 L942.5,763.2 L945.4,762.7 L948.4,762.3 L951.3,761.8 L954.3,761.3 L957.3,760.8 L960.2,760.3 L963.2,759.7 L966.1,759.2 L969.1,758.6 L972.0,758.1 L975.0,757.5 L977.9,756.9 L980.9,756.3 L983.8,755.6 L986.8,755.0 L989.7,754.3 L992.7,753.7 L995.6,753.0 L998.5,752.3 L1001.5,751.5 L1004.4,750.8 L1007.3,750.0 L1010.3,749.2 L1013.2,748.4 L1016.1,747.6 L1019.0,746.7 L1021.9,745.9 L1024.8,744.9 L1027.6,744.0 L1030.5,743.1 L1033.3,742.1 L1036.2,741.1 L1039.0,740.0 L1041.8,739.0 L1044.6,737.9 L1047.4,736.7 L1050.1,735.6 L1052.9,734.4 L1055.6,733.2 L1058.3,731.9 L1061.0,730.6 L1063.7,729.3 L1066.4,727.9 L1069.0,726.6 L1071.7,725.1 L1074.3,723.7 L1076.8,722.2 L1079.4,720.6 L1081.9,719.0 L1084.4,717.4 L1086.9,715.7 L1089.4,714.0 L1091.8,712.3 L1094.2,710.5 L1096.6,708.7 L1099.0,706.9 L1101.3,705.0 L1103.6,703.0 L1105.8,701.1 L1108.0,699.0 L1110.2,697.0 L1112.4,694.9 L1114.5,692.8 L1116.6,690.6 L1118.6,688.4 L1120.6,686.1 L1122.6,683.9 L1124.5,681.5 L1126.4,679.2 L1128.2,676.8 L1130.0,674.3 L1131.8,671.9 L1133.5,669.3" />
<path d="M371.3,667.8 L368.8,669.7 L366.4,671.7 L364.2,673.9 L362.2,676.2 L360.5,678.6 L358.8,681.1 L357.4,683.7 L356.2,686.4 L355.1,689.1 L354.2,691.9 L353.4,694.8 L352.8,697.8 L352.4,700.8 L352.1,703.8 L352.0,706.8 L352.0,709.9 L352.1,713.0 L352.4,716.1 L352.9,719.2 L353.4,722.3 L354.1,725.3 L354.9,728.4 L355.9,731.4 L356.9,734.3 L358.1,737.2 L359.4,740.0 L360.7,742.8 L362.2,745.5 L363.8,748.1 L365.5,750.6 L367.2,753.0 L369.1,755.4 L371.0,757.5 L373.0,759.6 L375.1,761.5" />
<path d="M376.5,671.7 L370.9,680.7 L367.5,686.3 L360.8,685.2" />
<path d="M561.7,708.9 L560.6,711.7 L559.6,714.6 L558.8,717.5 L558.1,720.4 L557.5,723.3 L556.9,726.3 L556.5,729.2 L556.1,732.2 L555.9,735.2 L555.7,738.2 L555.6,741.2 L555.5,744.2 L555.5,747.2 L555.6,750.3 L555.7,753.3 L555.8,756.4 L556.0,759.4 L556.2,762.5 L556.4,765.5 L556.7,768.6 L556.9,771.6 L557.2,774.7 L557.5,777.7 L557.7,780.7 L558.0,783.8 L558.2,786.8 L558.5,789.8 L558.7,792.8 L558.8,795.8 L558.9,798.8 L559.0,801.8 L559.1,804.8" />
<path d="M838.7,642.1 L841.5,641.0 L844.4,640.0 L847.2,639.0 L850.1,638.0 L853.0,637.0 L855.9,636.1 L858.7,635.3 L861.6,634.4 L864.5,633.6 L867.4,632.9 L870.3,632.1 L873.3,631.4 L876.2,630.7 L879.1,630.1 L882.0,629.4 L885.0,628.8 L887.9,628.3 L890.9,627.7 L893.8,627.1 L896.8,626.6 L899.7,626.1 L902.7,625.6 L905.7,625.1 L908.6,624.7 L911.6,624.2 L914.6,623.8 L917.5,623.3 L920.5,622.9 L923.5,622.5 L926.5,622.1 L929.5,621.6 L932.4,621.2 L935.4,620.8 L938.4,620.4 L941.4,620.0 L944.4,619.6 L947.4,619.1 L950.3,618.7 L953.3,618.3 L956.3,617.9 L959.3,617.5 L962.3,617.1 L965.3,616.7 L968.3,616.3 L971.3,615.9 L974.3,615.5 L977.2,615.2 L980.2,614.8 L983.2,614.5 L986.2,614.1 L989.2,613.8 L992.2,613.5 L995.2,613.2 L998.2,613.0 L1001.2,612.8 L1004.2,612.5 L1007.2,612.3 L1010.2,612.2 L1013.1,612.0 L1016.1,611.9 L1019.1,611.8 L1022.1,611.7 L1025.1,611.7 L1028.1,611.7 L1031.1,611.7 L1034.1,611.8 L1037.1,611.9 L1040.1,612.0 L1043.1,612.2 L1046.1,612.4 L1049.1,612.6 L1052.1,612.9 L1055.1,613.2 L1058.1,613.6 L1061.1,614.0 L1064.0,614.4 L1067.0,614.9 L1070.0,615.5 L1073.0,616.1 L1076.0,616.7 L1079.0,617.4 L1081.9,618.2 L1084.9,619.0 L1087.8,619.9 L1090.6,620.9 L1093.5,621.9 L1096.3,623.1 L1099.0,624.3 L1101.7,625.5 L1104.4,626.9 L1107.0,628.4 L1109.5,629.9 L1112.0,631.6 L1114.3,633.3 L1116.6,635.2 L1118.9,637.2 L1121.0,639.2 L1123.0,641.4 L1125.0,643.8 L1126.8,646.2 L1128.6,648.8 L1130.2,651.4 L1131.6,654.1 L1132.9,657.0 L1134.0,659.8 L1135.0,662.7 L1135.7,665.6 L1136.2,668.6 L1136.4,671.5 L1136.5,674.4 L1136.3,677.3 L1136.0,680.3 L1135.5,683.2 L1134.9,686.1 L1134.2,689.0 L1133.3,691.9 L1132.3,694.7 L1131.3,697.6 L1130.2,700.4 L1129.1,703.3 L1127.9,706.1 L1126.7,708.9 L1125.4,711.6 L1124.1,714.4 L1122.7,717.1 L1121.3,719.8 L1119.9,722.4 L1118.4,725.1 L1116.8,727.7 L1115.2,730.2 L1113.6,732.8 L1111.9,735.3 L1110.1,737.7 L1108.4,740.1 L1106.5,742.5 L1104.6,744.8 L1102.7,747.1 L1100.8,749.4 L1098.7,751.6 L1096.7,753.8 L1094.6,755.9 L1092.5,758.0 L1090.3,760.1 L1088.1,762.1 L1085.9,764.0 L1083.6,766.0 L1081.3,767.9 L1078.9,769.8 L1076.6,771.6 L1074.2,773.4 L1071.7,775.1 L1069.3,776.8 L1066.8,778.5 L1064.3,780.2 L1061.7,781.8 L1059.2,783.3 L1056.6,784.9 L1054.0,786.4 L1051.3,787.8 L1048.7,789.2 L1046.0,790.6 L1043.3,792.0 L1040.6,793.3 L1037.9,794.6 L1035.2,795.8 L1032.4,797.1 L1029.7,798.2 L1026.9,799.4 L1024.1,800.5 L1021.3,801.6 L1018.5,802.7 L1015.7,803.7 L1012.9,804.7 L1010.0,805.7 L1007.2,806.6 L1004.3,807.6 L1001.4,808.5 L998.6,809.3 L995.7,810.2 L992.8,811.0 L989.9,811.9 L987.0,812.7 L984.0,813.4 L981.1,814.2 L978.2,814.9 L975.3,815.7 L972.3,816.4 L969.4,817.1 L966.4,817.8 L963.5,818.4 L960.5,819.1 L957.6,819.7 L954.6,820.4 L951.7,821.0 L948.7,821.6 L945.8,822.2 L942.8,822.8 L939.8,823.4 L936.9,824.0 L933.9,824.6 L931.0,825.2 L928.0,825.8 L925.1,826.3 L922.1,826.9 L919.2,827.5 L916.2,828.0 L913.3,828.6 L910.3,829.1 L907.4,829.7 L904.4,830.2 L901.5,830.7 L898.5,831.3 L895.6,831.8 L892.6,832.3 L889.7,832.9 L886.7,833.4 L883.8,833.9 L880.8,834.4 L877.9,835.0 L874.9,835.5 L872.0,836.0 L869.0,836.5 L866.1,837.0 L863.1,837.5 L860.2,838.0 L857.2,838.5 L854.2,839.1 L851.3,839.6 L848.3,840.1 L845.4,840.6 L842.4,841.1 L839.4,841.6 L836.5,842.1 L833.5,842.6 L830.6,843.1 L827.6,843.6 L824.6,844.1 L821.7,844.6 L818.7,845.1 L815.7,845.6 L812.7,846.2 L809.8,846.7 L806.8,847.2 L803.8,847.7 L800.8,848.2 L797.8,848.7 L794.9,849.2 L791.9,849.7 L788.9,850.2 L785.9,850.6 L782.9,851.0 L779.9,851.4 L776.9,851.7 L773.9,852.0 L770.9,852.2 L767.9,852.4 L765.0,852.5 L762.0,852.5 L759.0,852.5 L756.0,852.4 L753.0,852.2 L750.0,852.1 L747.0,851.9 L744.0,851.7 L741.1,851.4 L738.1,851.2 L735.1,850.9 L732.1,850.7 L729.1,850.4 L726.1,850.2 L723.1,849.9 L720.1,849.6 L717.1,849.3 L714.1,848.9 L711.1,848.6 L708.1,848.2 L705.1,847.9 L702.1,847.5 L699.1,847.0 L696.2,846.6 L693.2,846.1 L690.2,845.6 L687.3,845.1 L684.3,844.6 L681.3,844.0 L678.4,843.4 L675.4,842.8 L672.5,842.2 L669.6,841.6 L666.6,840.9 L663.7,840.3 L660.8,839.6 L657.9,838.9 L654.9,838.1 L652.0,837.4 L649.1,836.6 L646.2,835.8 L643.3,835.0 L640.4,834.2 L637.6,833.4 L634.7,832.6 L631.8,831.7 L628.9,830.8 L626.1,829.9 L623.2,829.0 L620.3,828.1 L617.5,827.1 L614.6,826.2 L611.8,825.2 L608.9,824.2 L606.1,823.3 L603.3,822.3 L600.4,821.3 L597.6,820.2 L594.8,819.2 L591.9,818.2 L589.1,817.2 L586.3,816.1 L583.5,815.1 L580.6,814.0 L577.8,813.0 L575.0,811.9 L572.2,810.9 L569.4,809.8 L566.5,808.8 L563.7,807.7 L560.9,806.6 L558.1,805.6 L555.3,804.5 L552.4,803.5 L549.6,802.5 L546.8,801.4 L544.0,800.4 L541.2,799.4 L538.3,798.3 L535.5,797.3 L532.7,796.3 L529.8,795.3 L527.0,794.3 L524.2,793.4 L521.3,792.4 L518.5,791.5 L515.6,790.5 L512.8,789.6 L509.9,788.7 L507.1,787.8 L504.2,786.9 L501.3,786.0 L498.5,785.2 L495.6,784.4 L492.7,783.6 L489.8,782.8 L486.9,782.0 L484.0,781.3 L481.1,780.5 L478.2,779.8 L475.3,779.1 L472.3,778.5 L469.4,777.9 L466.5,777.2 L463.5,776.7 L460.6,776.1 L457.6,775.6 L454.7,775.0 L451.7,774.5 L448.7,774.0 L445.7,773.6 L442.8,773.1 L439.8,772.7 L436.8,772.2 L433.8,771.8 L430.8,771.4 L427.8,771.0 L424.8,770.6 L421.8,770.2 L418.8,769.8 L415.8,769.4 L412.8,769.1 L409.8,768.7 L406.8,768.3 L403.8,767.9 L400.8,767.5 L397.9,767.2 L394.9,766.8 L391.9,766.4 L388.9,766.0 L385.9,765.5 L383.0,765.1 L380.0,764.7 L377.0,764.2 L374.1,763.8 L371.1,763.4 L368.2,763.0 L365.2,762.8 L362.3,762.9 L359.3,763.2 L356.4,763.8 L353.5,764.8 L350.6,766.2" />
<path d="M716.8,718.8 L719.8,718.2 L722.8,717.7 L725.7,717.2 L728.7,716.7 L731.7,716.3 L734.7,715.8 L737.6,715.4 L740.6,714.9 L743.6,714.5 L746.6,714.1 L749.6,713.7 L752.5,713.3 L755.5,713.0 L758.5,712.6 L761.5,712.3 L764.5,711.9 L767.5,711.6 L770.4,711.3 L773.4,711.0 L776.4,710.7 L779.4,710.4 L782.4,710.1 L785.4,709.8 L788.3,709.5 L791.3,709.3 L794.3,709.0 L797.3,708.8 L800.3,708.6 L803.3,708.3 L806.3,708.1 L809.3,707.9 L812.2,707.7 L815.2,707.5 L818.2,707.3 L821.2,707.1 L824.2,706.9 L827.2,706.7 L830.2,706.5 L833.2,706.3 L836.2,706.1 L839.2,705.9 L842.2,705.8 L845.2,705.6 L848.1,705.4 L851.1,705.2 L854.1,705.1 L857.1,704.9 L860.1,704.7 L863.1,704.6 L866.1,704.4 L869.1,704.2 L872.1,704.1 L875.1,703.9 L878.1,703.7 L881.1,703.5 L884.1,703.4 L887.1,703.2 L890.1,703.0 L893.1,702.8 L896.1,702.6 L899.1,702.4 L902.1,702.3 L905.1,702.1 L908.1,701.8 L911.1,701.6 L914.1,701.4 L917.1,701.2 L920.1,701.0 L923.1,700.8 L926.1,700.5 L929.1,700.3 L932.1,700.0 L935.1,699.8 L938.1,699.5 L941.1,699.2 L944.1,698.9 L947.1,698.7 L950.1,698.4 L953.2,698.1 L956.2,697.8 L959.2,697.5 L962.2,697.2 L965.2,697.0 L968.2,696.7 L971.2,696.5 L974.2,696.2 L977.2,696.0 L980.2,695.8 L983.2,695.7 L986.2,695.5 L989.2,695.4 L992.2,695.3 L995.2,695.3 L998.1,695.2 L1001.1,695.3 L1004.1,695.3 L1007.1,695.4 L1010.1,695.5 L1013.1,695.7 L1016.1,696.0 L1019.0,696.2 L1022.0,696.6 L1025.0,697.0 L1027.9,697.4 L1030.9,697.9 L1033.9,698.5 L1036.8,699.1 L1039.7,699.9 L1042.6,700.7 L1045.4,701.7 L1048.2,702.8 L1050.9,704.0 L1053.5,705.3 L1056.0,706.9 L1058.5,708.6 L1060.8,710.5 L1063.0,712.6 L1065.1,714.9 L1067.0,717.4" />
<path d="M1010.6,842.6 L1013.0,840.8 L1015.4,839.1 L1017.8,837.3 L1020.2,835.6 L1022.7,833.9 L1025.1,832.2 L1027.6,830.5 L1030.1,828.8 L1032.7,827.2 L1035.2,825.5 L1037.7,823.8 L1040.2,822.2 L1042.8,820.5 L1045.3,818.8 L1047.8,817.2 L1050.3,815.5 L1052.8,813.8 L1055.3,812.1 L1057.8,810.3 L1060.2,808.6 L1062.7,806.8 L1065.1,805.0 L1067.5,803.1 L1069.8,801.3 L1072.1,799.4 L1074.4,797.4 L1076.7,795.5 L1078.9,793.4 L1081.0,791.4 L1083.1,789.3 L1085.2,787.1 L1087.2,784.9 L1089.2,782.7 L1091.1,780.4 L1092.9,778.0 L1094.7,775.6 L1096.4,773.1 L1098.0,770.5 L1099.6,767.9 L1101.1,765.2 L1102.5,762.4 L1103.9,759.6 L1105.2,756.8 L1106.5,753.9 L1107.8,751.1 L1109.0,748.4 L1110.3,745.8 L1111.6,743.2 L1112.9,741.0 L1114.2,740.9 L1115.2,743.4 L1116.0,746.3 L1116.4,749.3 L1116.5,752.2 L1116.3,755.1 L1115.8,758.0 L1115.0,760.9 L1114.1,763.8 L1113.0,766.6 L1111.7,769.4 L1110.2,772.2 L1108.7,774.9 L1107.1,777.6 L1105.5,780.2 L1103.8,782.7 L1102.0,785.2 L1100.3,787.7 L1098.5,790.1 L1096.6,792.4 L1094.8,794.8 L1092.9,797.1 L1091.0,799.3 L1089.1,801.6 L1087.1,803.8 L1085.1,806.0 L1083.2,808.1 L1081.1,810.3 L1079.1,812.5 L1077.1,814.6 L1075.0,816.8 L1073.0,819.0 L1070.9,821.1 L1068.8,823.3 L1066.7,825.5 L1064.6,827.8 L1062.5,830.0 L1060.4,832.3" />
<path d="M350.6,770.1 L353.6,769.4 L356.6,768.9 L359.6,768.5 L362.6,768.2 L365.6,768.1 L368.6,768.2 L371.6,768.3 L374.5,768.5 L377.5,768.8 L380.4,769.2 L383.4,769.7 L386.3,770.3 L389.2,770.8 L392.1,771.5 L395.1,772.1 L398.0,772.8 L400.9,773.5 L403.8,774.3 L406.8,775.0 L409.7,775.7 L412.6,776.4 L415.5,777.1 L418.5,777.8 L421.4,778.4 L424.4,779.0 L427.3,779.6 L430.3,780.2 L433.2,780.8 L436.2,781.4 L439.2,781.9 L442.1,782.5 L445.1,783.0 L448.0,783.6 L451.0,784.2 L453.9,784.8 L456.9,785.4 L459.8,786.0 L462.8,786.6 L465.7,787.3 L468.6,788.0 L471.5,788.8 L474.4,789.5 L477.3,790.3 L480.2,791.2 L483.0,792.1 L485.8,793.0 L488.7,793.9 L491.5,794.9 L494.3,796.0 L497.0,797.1 L499.8,798.2 L502.5,799.4 L505.2,800.6 L507.9,801.9 L510.6,803.3 L513.2,804.7 L515.8,806.1 L518.4,807.6 L521.0,809.1 L523.6,810.7 L526.1,812.3 L528.7,813.9 L531.2,815.6 L533.7,817.2 L536.3,818.9 L538.8,820.6 L541.3,822.3 L543.8,824.0 L546.3,825.7 L548.8,827.4 L551.3,829.1 L553.8,830.8 L556.4,832.5 L558.9,834.1 L561.5,835.7 L564.0,837.3 L566.6,838.8 L569.2,840.4 L571.8,841.9 L574.4,843.3 L577.1,844.8 L579.7,846.2 L582.4,847.6 L585.1,848.9 L587.7,850.3 L590.4,851.6 L593.1,852.9 L595.9,854.1 L598.6,855.3 L601.3,856.5 L604.1,857.7 L606.9,858.9 L609.6,860.0 L612.4,861.1 L615.2,862.2 L618.0,863.2 L620.8,864.2 L623.6,865.3 L626.5,866.2 L629.3,867.2 L632.1,868.1 L635.0,869.1 L637.9,870.0 L640.7,870.8 L643.6,871.7 L646.5,872.5 L649.4,873.3 L652.3,874.1 L655.2,874.9 L658.1,875.6 L661.0,876.4 L663.9,877.1 L666.9,877.8 L669.8,878.5 L672.7,879.1 L675.7,879.8 L678.6,880.4 L681.6,881.0 L684.5,881.6 L687.5,882.1 L690.5,882.7 L693.4,883.2 L696.4,883.7 L699.4,884.2 L702.4,884.7 L705.4,885.2 L708.3,885.7 L711.3,886.1 L714.3,886.6 L717.3,887.0 L720.3,887.4 L723.3,887.8 L726.3,888.1 L729.3,888.5 L732.3,888.9 L735.3,889.2 L738.3,889.5 L741.3,889.8 L744.3,890.1 L747.3,890.4 L750.3,890.7 L753.3,891.0 L756.3,891.2 L759.3,891.5 L762.3,891.7 L765.3,892.0 L768.3,892.2 L771.3,892.4 L774.2,892.6 L777.2,892.8 L780.2,893.0 L783.2,893.2 L786.2,893.4 L789.1,893.5 L792.1,893.7 L795.1,893.8 L798.0,894.0 L801.0,894.1 L803.9,894.3 M804.1,894.0C810.5,892.8 829.7,889.5 842.5,886.8C855.3,884.1 867.2,880.8 880.9,877.9C894.6,875.0 917.2,870.9 924.5,869.5" />
<path d="M350.6,772.5 L353.6,772.6 L356.7,772.8 L359.7,773.0 L362.6,773.3 L365.6,773.6 L368.6,773.9 L371.6,774.3 L374.5,774.7 L377.5,775.1 L380.4,775.6 L383.4,776.0 L386.3,776.5 L389.3,777.1 L392.2,777.6 L395.1,778.2 L398.1,778.7 L401.0,779.3 L403.9,779.9 L406.9,780.5 L409.8,781.0 L412.7,781.6 L415.7,782.2 L418.6,782.7 L421.6,783.3 L424.5,783.8 L427.5,784.4 L430.5,784.9 L433.4,785.4 L436.4,785.9 L439.4,786.5 L442.3,787.0 L445.3,787.6 L448.2,788.2 L451.2,788.8 L454.1,789.4 L457.1,790.1 L460.0,790.8 L462.9,791.5 L465.8,792.3 L468.7,793.1 L471.5,794.0 L474.4,794.9 L477.2,795.8 L480.0,796.8 L482.8,797.9 L485.5,799.0 L488.2,800.2 L490.9,801.4 L493.6,802.7 L496.3,804.1 L498.9,805.4 L501.5,806.9 L504.1,808.3 L506.7,809.8 L509.3,811.3 L511.8,812.9 L514.4,814.5 L516.9,816.1 L519.5,817.7 L522.0,819.3 L524.5,821.0 L527.0,822.6 L529.6,824.3 L532.1,825.9 L534.6,827.6 L537.1,829.3 L539.7,830.9 L542.2,832.5 L544.8,834.2 L547.3,835.8 L549.9,837.4 L552.4,839.0 L555.0,840.6 L557.5,842.2 L560.1,843.7 L562.7,845.3 L565.3,846.8 L567.9,848.3 L570.5,849.8 L573.1,851.3 L575.8,852.7 L578.4,854.2 L581.1,855.6 L583.7,856.9 L586.4,858.3 L589.1,859.6 L591.8,860.9 L594.5,862.2 L597.2,863.5 L599.9,864.7 L602.6,865.9 L605.4,867.1 L608.1,868.2 L610.9,869.4 L613.7,870.5 L616.5,871.5 L619.3,872.6 L622.1,873.6 L624.9,874.6 L627.7,875.6 L630.5,876.6 L633.3,877.5 L636.2,878.4 L639.0,879.3 L641.9,880.2 L644.8,881.1 L647.6,881.9 L650.5,882.7 L653.4,883.5 L656.3,884.3 L659.2,885.0 L662.1,885.7 L665.0,886.4 L667.9,887.1 L670.9,887.8 L673.8,888.4 L676.7,889.1 L679.7,889.7 L682.6,890.3 L685.6,890.9 L688.5,891.4 L691.5,891.9 L694.5,892.5 L697.4,893.0 L700.4,893.4 L703.4,893.9 L706.3,894.4 L709.3,894.8 L712.3,895.2 L715.3,895.6 L718.3,896.0 L721.3,896.4 L724.3,896.7 L727.3,897.1 L730.3,897.4 L733.3,897.7 L736.3,898.0 L739.3,898.3 L742.3,898.5 L745.3,898.8 L748.3,899.0 L751.3,899.2 L754.3,899.4 L757.3,899.6 L760.3,899.8 L763.3,900.0 L766.3,900.2 L769.4,900.3 L772.4,900.5 L775.4,900.6 L778.4,900.7 L781.4,900.8 L784.4,900.9 L787.4,901.0 L790.4,901.0 L793.4,901.1 L796.4,901.1 L799.4,901.2 L802.3,901.2 L805.3,901.2 L808.3,901.3 L811.3,901.3 L814.3,901.3 L817.2,901.2 L820.2,901.2 L823.2,901.2 L826.1,901.2 L829.1,901.1 L832.0,901.1 M832.2,901.0C838.2,899.5 854.0,895.4 868.1,892.0C882.2,888.6 908.7,882.5 916.8,880.6" />
<path d="M349.8,766.8 L348.0,769.7 L346.7,772.6 L346.0,775.5 L345.6,778.4 L345.7,781.2 L346.1,784.0 L346.7,786.8 L347.6,789.6 L348.6,792.4 L349.8,795.1 L351.0,797.8 L352.3,800.5 L353.7,803.2 L355.2,805.8 L356.7,808.4 L358.3,811.0 L359.9,813.5 L361.6,816.1 L363.3,818.6 L365.1,821.0 L366.9,823.5 L368.8,825.9 L370.7,828.3 L372.6,830.7 L374.6,833.0 L376.6,835.3 L378.6,837.6 L380.7,839.8 L382.8,842.0 L384.9,844.2 L387.0,846.4 L389.1,848.5 L391.3,850.6 L393.5,852.7 L395.7,854.7 L397.9,856.8 L400.2,858.7 L402.5,860.7 L404.7,862.6 L407.1,864.5 L409.4,866.4 L411.7,868.3 L414.1,870.1 L416.5,871.9 L418.9,873.7 L421.3,875.5 L423.8,877.2 L426.2,878.9 L428.7,880.6 L431.2,882.2 L433.7,883.9 L436.2,885.5 L438.8,887.1 L441.3,888.6 L443.9,890.2 L446.5,891.7 L449.1,893.2 L451.7,894.7 L454.3,896.2 L456.9,897.6 L459.6,899.0 L462.3,900.4 L464.9,901.8 L467.6,903.1 L470.3,904.5 L473.0,905.8 L475.7,907.1 L478.5,908.3 L481.2,909.6 L483.9,910.8 L486.7,912.1 L489.5,913.3 L492.2,914.5 L495.0,915.6 L497.8,916.8 L500.6,917.9 L503.4,919.0 L506.2,920.1 L509.0,921.2 L511.8,922.3 L514.7,923.3 L517.5,924.4 L520.3,925.4 L523.2,926.4 L526.0,927.4 L528.9,928.3 L531.8,929.3 L534.6,930.2 L537.5,931.1 L540.4,932.0 L543.3,932.9 L546.2,933.8 L549.1,934.6 L552.0,935.5 L554.9,936.3 L557.8,937.1 L560.7,937.8 L563.6,938.6 L566.6,939.3 L569.5,940.0 L572.4,940.7 L575.4,941.4 L578.3,942.1 L581.2,942.7 L584.2,943.4 L587.2,944.0 L590.1,944.6 L593.1,945.1 L596.0,945.7 L599.0,946.2 L602.0,946.7 L604.9,947.2 L607.9,947.7 L610.9,948.2 L613.9,948.6 L616.9,949.0 L619.8,949.4 L622.8,949.8 L625.8,950.2 L628.8,950.5 L631.8,950.9 L634.8,951.2 L637.8,951.5 L640.8,951.7 L643.8,952.0 L646.8,952.2 L649.8,952.4 L652.8,952.6 L655.8,952.8 L658.8,952.9 L661.8,953.0 L664.8,953.1 L667.8,953.2 L670.8,953.3 L673.8,953.3 L676.8,953.4 L679.8,953.4 L682.8,953.4 L685.8,953.3 L688.9,953.3 L691.9,953.2 L694.9,953.1 L697.9,953.0 L700.9,952.8 L703.9,952.7 L706.9,952.5 L709.9,952.3 L712.9,952.1 L715.9,951.8 L718.8,951.6 L721.8,951.3 L724.8,951.0 L727.8,950.6 L730.8,950.3 L733.8,949.9 L736.8,949.5 L739.7,949.1 L742.7,948.7 L745.7,948.2 L748.7,947.8 L751.6,947.3 L754.6,946.8 L757.6,946.3 L760.5,945.7 L763.5,945.2 L766.5,944.6 L769.4,944.1 L772.4,943.5 L775.3,942.9 L778.3,942.2 L781.3,941.6 L784.2,941.0 L787.2,940.3 L790.1,939.7 L793.0,939.0 L796.0,938.3 L798.9,937.7 L801.9,937.0 L804.8,936.3 L807.7,935.6 L810.7,934.8 L813.6,934.1 L816.6,933.4 L819.5,932.7 L822.4,931.9 L825.3,931.2 L828.3,930.5 L831.2,929.7 L834.1,929.0 L837.0,928.3 L839.9,927.5 L842.9,926.8 L845.8,926.0 L848.7,925.3 L851.6,924.5 L854.5,923.8 L857.4,923.1 L860.3,922.3 L863.2,921.6 L866.1,920.8 L869.0,920.1 L871.9,919.3 L874.8,918.6 L877.7,917.8 L880.6,917.0 L883.5,916.2 L886.4,915.4 L889.3,914.6 L892.2,913.7 L895.1,912.9 L897.9,912.0 L900.8,911.1 L903.7,910.2 L906.5,909.2 L909.4,908.3 L912.3,907.3 L915.1,906.2" />
<path d="M735.4,950.4 L761.1,972.4" />
<path d="M817.1,934.5 L783.8,971.6" />
<path d="M824.0,933.8 L827.0,984.5" />
<path d="M761.1,972.4 L762.6,986.0" />
<path d="M783.1,971.6 L782.3,986.0" />
<path d="M761.5,972.5C763.2,972.3 768.4,971.6 772.0,971.5C775.6,971.4 781.2,971.6 783.0,971.6" />
<path d="M762.5,979.0C764.0,979.3 768.5,980.7 771.7,980.7C774.9,980.7 779.9,979.5 781.5,979.2" />
<path d="M762.6,984.5C764.1,984.8 768.4,986.0 771.7,986.0C775.0,986.0 780.5,984.8 782.3,984.5" />
<path d="M754.6,986.7 L756.8,985.2 L759.5,984.0 L762.6,983.3 L766.0,982.8 L769.6,982.7 L773.2,982.8 L776.8,983.2 L780.2,983.8 L783.4,984.6 L786.1,985.5 L788.4,986.6" />
<path d="M754.7,987.4 L756.6,988.7 L759.0,989.7 L761.8,990.4 L765.0,991.0 L768.4,991.4 L771.9,991.6 L775.3,991.7 L778.7,991.6 L781.8,991.2 L784.6,990.5 L786.8,989.2 L788.5,987.4" />
<path d="M755.0,987.5 L755.5,1019.0" />
<path d="M787.6,988.3 L787.6,1019.0" />
<path d="M788.4,986.0 L788.4,1013.0" />
<path d="M828.5,985.0 L827.0,1013.3" />
<path d="M788.4,986.0C791.9,986.4 802.9,988.5 809.6,988.5C816.3,988.5 825.4,986.4 828.5,986.0" />
<path d="M788.4,1013.0C788.9,1013.5 787.9,1015.3 791.4,1016.3C794.9,1017.3 803.7,1019.3 809.6,1018.8C815.5,1018.3 824.1,1014.2 827.0,1013.3" />
<path d="M801,952.6 Q811.75,953.8000000000001 822.5,952.0" stroke-width="2.2"/>
<path d="M800,956 Q811.4,957.2 822.8,955.4" stroke-width="2.2"/>
<path d="M796.6,964.4 Q810.1,965.6 823.6,963.8" stroke-width="2.2"/>
<path d="M795.5,967.2 Q809.65,968.4000000000001 823.8,966.6" stroke-width="2.2"/>
<path d="M790,971.7 Q807.1,972.9000000000001 824.2,971.1" stroke-width="2.2"/>
<path d="M789.5,976.2 Q807.0,977.4000000000001 824.5,975.6" stroke-width="2.2"/>
<path d="M789.3,979.6 Q806.95,980.8000000000001 824.6,979.0" stroke-width="2.2"/>
<path d="M789,982.9 Q806.9,984.1 824.8,982.3" stroke-width="2.2"/>
<path d="M748,1017.2 A22,4.2 0 0 0 792,1017.2" />
<path d="M777.0,1025.5C777.4,1028.8 779.3,1040.2 779.1,1045.6C778.9,1051.0 778.2,1054.2 776.0,1058.0C773.8,1061.8 767.7,1066.8 766.0,1068.5" />
<path d="M785.5,1025.5C785.1,1028.8 783.2,1040.0 783.2,1045.6C783.2,1051.2 784.3,1055.1 785.5,1059.0C786.7,1062.9 789.7,1067.3 790.5,1069.0" />
<path d="M764.8,1069.0C766.8,1069.7 772.7,1073.2 777.0,1073.3C781.3,1073.4 788.2,1070.1 790.5,1069.5" />
<path d="M742.0,1011.9 L739.0,1011.5 L736.0,1011.2 L733.0,1010.8 L730.0,1010.4 L727.1,1010.0 L724.1,1009.7 L721.1,1009.3 L718.1,1009.0 L715.1,1008.7 L712.1,1008.3 L709.1,1008.0 L706.0,1007.7 L703.0,1007.4 L700.0,1007.2 L697.0,1006.9 L694.0,1006.6 L691.0,1006.4 L688.0,1006.2 L684.9,1005.9 L681.9,1005.7 L678.9,1005.5 L675.9,1005.3 L672.9,1005.2 L669.8,1005.0 L666.8,1004.8 L663.8,1004.7 L660.7,1004.6 L657.7,1004.5 L654.7,1004.4 L651.7,1004.3 L648.6,1004.2 L645.6,1004.2 L642.6,1004.1 L639.6,1004.1 L636.5,1004.1 L633.5,1004.1 L630.5,1004.1 L627.4,1004.2 L624.4,1004.2 L621.4,1004.3 L618.4,1004.4 L615.4,1004.5 L612.3,1004.6 L609.3,1004.8 L606.3,1004.9 L603.3,1005.1 L600.3,1005.3 L597.2,1005.5 L594.2,1005.7 L591.2,1005.9 L588.2,1006.2 L585.2,1006.5 L582.2,1006.8 L579.2,1007.1 L576.2,1007.4 L573.2,1007.8 L570.2,1008.2 L567.2,1008.6 L564.2,1009.0 L561.2,1009.4 L558.3,1009.9 L555.3,1010.4 L552.3,1010.9 L549.3,1011.4 L546.3,1011.9 L543.4,1012.5 L540.4,1013.1 L537.5,1013.7 L534.5,1014.3 L531.5,1015.0 L528.6,1015.7 L525.7,1016.4 L522.7,1017.1 L519.8,1017.8 L516.8,1018.6 L513.9,1019.4 L511.0,1020.2 L508.1,1021.1" />
<path d="M705.8,1049.4 L702.9,1048.3 L700.1,1047.3 L697.2,1046.3 L694.3,1045.3 L691.4,1044.4 L688.5,1043.5 L685.6,1042.7 L682.6,1041.9 L679.7,1041.1 L676.8,1040.3 L673.8,1039.6 L670.9,1039.0 L667.9,1038.3 L664.9,1037.7 L662.0,1037.2 L659.0,1036.6 L656.0,1036.1 L653.0,1035.6 L650.0,1035.2 L647.0,1034.7 L644.0,1034.3 L640.9,1034.0 L637.9,1033.6 L634.9,1033.3 L631.9,1033.0 L628.8,1032.8 L625.8,1032.5 L622.8,1032.3 L619.7,1032.1 L616.7,1031.9 L613.6,1031.8 L610.6,1031.7 L607.5,1031.6 L604.5,1031.5 L601.4,1031.4 L598.4,1031.4 L595.3,1031.3 L592.2,1031.3 L589.2,1031.3 L586.1,1031.4 L583.1,1031.4 L580.0,1031.5 L577.0,1031.5 L573.9,1031.6 L570.9,1031.7 L567.8,1031.8 L564.8,1031.9 L561.7,1032.1 L558.7,1032.2 L555.7,1032.4 L552.6,1032.6 L549.6,1032.7 L546.6,1032.9 L543.6,1033.1 L540.6,1033.3 L537.5,1033.6 L534.5,1033.8 L531.5,1034.0 L528.5,1034.2" />
<path d="M508.1,1021.1 L528.5,1034.4" />
<path d="M508.1,1021.1 L507.3,1052.5" />
<path d="M528.5,1034.4 L528.5,1052.5" />
<path d="M507.3,1052.5C509.1,1052.9 514.8,1054.8 518.3,1054.8C521.8,1054.8 526.8,1052.9 528.5,1052.5" />
<path d="M744.5,1027.4 L741.9,1028.9 L739.4,1030.4 L736.8,1032.0 L734.2,1033.5 L731.6,1035.0 L729.0,1036.5 L726.4,1038.0 L723.8,1039.4 L721.2,1040.9 L718.5,1042.4 L715.9,1043.9 L713.3,1045.4 L710.7,1046.9 L708.1,1048.3 L705.5,1049.8 L702.9,1051.3 L700.3,1052.8 L697.7,1054.3 L695.1,1055.8 L692.5,1057.3 L689.9,1058.8 L687.3,1060.3 L684.7,1061.8 L682.1,1063.3 L679.5,1064.8 L676.9,1066.4 L674.3,1067.9 L671.8,1069.5 L669.2,1071.0 L666.7,1072.6 L664.1,1074.2 L661.6,1075.8 L659.0,1077.4 L656.5,1079.0 L654.0,1080.6 L651.5,1082.3 L649.0,1083.9 L646.5,1085.6 L644.0,1087.2 L641.5,1088.9 L639.1,1090.6 L636.6,1092.3 L634.2,1094.1 L631.7,1095.8 L629.3,1097.6 L626.9,1099.3 L624.5,1101.1 L622.1,1102.9 L619.7,1104.7 L617.3,1106.5 L614.9,1108.4 L612.6,1110.2 L610.2,1112.1 L607.9,1114.0 L605.5,1115.9 L603.2,1117.8 L600.9,1119.7 L598.6,1121.6 L596.3,1123.5 L594.0,1125.5 L591.7,1127.4 L589.5,1129.4 L587.2,1131.4 L585.0,1133.4 L582.7,1135.4 L580.5,1137.4 L578.3,1139.4 L576.1,1141.5 L573.9,1143.5 L571.7,1145.6 L569.5,1147.6 L567.3,1149.7 L565.1,1151.8 L563.0,1153.9 L560.8,1156.0 L558.7,1158.1 L556.5,1160.2 L554.4,1162.3 L552.3,1164.4 L550.2,1166.6 L548.1,1168.7 L546.0,1170.9 L543.9,1173.0 L541.8,1175.2 L539.7,1177.4 L537.6,1179.5 L535.6,1181.7 L533.5,1183.9 L531.5,1186.1 L529.4,1188.3 L527.4,1190.5 L525.4,1192.7 L523.4,1194.9 L521.4,1197.1 L519.3,1199.3" />
<path d="M768.8,1061.8 L766.1,1063.1 L763.4,1064.4 L760.6,1065.7 L757.9,1067.0 L755.2,1068.3 L752.5,1069.7 L749.8,1071.0 L747.2,1072.4 L744.5,1073.8 L741.8,1075.1 L739.1,1076.5 L736.5,1077.9 L733.8,1079.4 L731.2,1080.8 L728.5,1082.2 L725.9,1083.7 L723.2,1085.1 L720.6,1086.6 L718.0,1088.1 L715.4,1089.6 L712.7,1091.1 L710.1,1092.6 L707.5,1094.1 L704.9,1095.6 L702.3,1097.2 L699.7,1098.7 L697.1,1100.2 L694.5,1101.8 L692.0,1103.4 L689.4,1104.9 L686.8,1106.5 L684.2,1108.1 L681.7,1109.7 L679.1,1111.3 L676.6,1112.9 L674.0,1114.5 L671.5,1116.1 L668.9,1117.7 L666.4,1119.4 L663.8,1121.0 L661.3,1122.6 L658.7,1124.3 L656.2,1125.9 L653.7,1127.6 L651.2,1129.2 L648.6,1130.9 L646.1,1132.6 L643.6,1134.2 L641.1,1135.9 L638.6,1137.6 L636.1,1139.3 L633.6,1141.0 L631.1,1142.7 L628.6,1144.4 L626.1,1146.1 L623.6,1147.8 L621.1,1149.5 L618.6,1151.2 L616.1,1152.9 L613.7,1154.7 L611.2,1156.4 L608.8,1158.2 L606.3,1160.0 L603.9,1161.7 L601.4,1163.5 L599.0,1165.3 L596.6,1167.1 L594.2,1168.9 L591.8,1170.8 L589.4,1172.6 L587.1,1174.5 L584.7,1176.3 L582.3,1178.2 L580.0,1180.1 L577.7,1182.0 L575.4,1183.9 L573.0,1185.8 L570.8,1187.8 L568.5,1189.8 L566.2,1191.7 L564.0,1193.7 L561.7,1195.7 L559.5,1197.8 L557.3,1199.8 L555.1,1201.9 L552.9,1204.0 L550.8,1206.1 L548.6,1208.2" />
<path d="M519.4,1199.4 L548.9,1208.5" />
<path d="M519.4,1199.4 L520.4,1236.0" />
<path d="M548.9,1208.5 L548.9,1232.0" />
<path d="M520.4,1236.0C522.6,1236.4 528.9,1239.3 533.6,1238.6C538.4,1237.9 546.4,1233.1 548.9,1232.0" />
<path d="M795.5,1023.5 L798.5,1024.1 L801.5,1024.8 L804.5,1025.4 L807.4,1026.1 L810.4,1026.8 L813.3,1027.5 L816.3,1028.2 L819.2,1028.9 L822.2,1029.6 L825.1,1030.3 L828.1,1031.1 L831.0,1031.9 L833.9,1032.6 L836.8,1033.4 L839.8,1034.2 L842.7,1035.0 L845.6,1035.9 L848.5,1036.7 L851.4,1037.5 L854.3,1038.4 L857.2,1039.3 L860.1,1040.2 L863.0,1041.0 L865.9,1042.0 L868.8,1042.9 L871.6,1043.8 L874.5,1044.7 L877.4,1045.7 L880.3,1046.6 L883.1,1047.6 L886.0,1048.6 L888.8,1049.6 L891.7,1050.6 L894.6,1051.6 L897.4,1052.6 L900.2,1053.7 L903.1,1054.7 L905.9,1055.8 L908.7,1056.8 L911.6,1057.9 L914.4,1059.0 L917.2,1060.1 L920.0,1061.2 L922.8,1062.3 L925.7,1063.4 L928.5,1064.6 L931.3,1065.7 L934.1,1066.9 L936.8,1068.0 L939.6,1069.2 L942.4,1070.4 L945.2,1071.6 L948.0,1072.8 L950.8,1074.0 L953.5,1075.2 L956.3,1076.4 L959.1,1077.7 L961.8,1078.9 L964.6,1080.2 L967.3,1081.4 L970.1,1082.7 L972.8,1084.0 L975.6,1085.3 L978.3,1086.6 L981.0,1087.9 L983.8,1089.2 L986.5,1090.5 L989.2,1091.8 L991.9,1093.2 L994.6,1094.5 L997.4,1095.9 L1000.1,1097.2 L1002.8,1098.6 L1005.5,1100.0 L1008.2,1101.3 L1010.9,1102.7 L1013.6,1104.1 L1016.2,1105.5 L1018.9,1106.9 L1021.6,1108.4 L1024.3,1109.8 L1026.9,1111.2 L1029.6,1112.6 L1032.3,1114.1 L1034.9,1115.5 L1037.6,1117.0 L1040.2,1118.5 L1042.9,1119.9 L1045.5,1121.4 L1048.2,1122.9 L1050.8,1124.4 L1053.4,1125.9 L1056.1,1127.4 L1058.7,1128.9 L1061.3,1130.4 L1063.9,1131.9 L1066.6,1133.4 L1069.2,1135.0 L1071.8,1136.5 L1074.4,1138.1 L1077.0,1139.6 L1079.6,1141.1 L1082.2,1142.7 L1084.8,1144.3" />
<path d="M789.7,1065.1 L792.6,1065.6 L795.6,1066.2 L798.6,1066.8 L801.5,1067.4 L804.5,1068.0 L807.4,1068.6 L810.4,1069.3 L813.3,1069.9 L816.3,1070.6 L819.2,1071.3 L822.1,1072.0 L825.0,1072.7 L828.0,1073.5 L830.9,1074.2 L833.8,1075.0 L836.7,1075.7 L839.6,1076.5 L842.5,1077.3 L845.4,1078.1 L848.3,1079.0 L851.2,1079.8 L854.0,1080.6 L856.9,1081.5 L859.8,1082.4 L862.7,1083.3 L865.5,1084.1 L868.4,1085.1 L871.3,1086.0 L874.1,1086.9 L877.0,1087.8 L879.8,1088.8 L882.7,1089.7 L885.5,1090.7 L888.3,1091.7 L891.2,1092.6 L894.0,1093.6 L896.9,1094.6 L899.7,1095.6 L902.5,1096.7 L905.3,1097.7 L908.2,1098.7 L911.0,1099.7 L913.8,1100.8 L916.6,1101.8 L919.4,1102.9 L922.2,1104.0 L925.1,1105.0 L927.9,1106.1 L930.7,1107.2 L933.5,1108.3 L936.3,1109.4 L939.1,1110.5 L941.9,1111.6 L944.7,1112.7 L947.5,1113.8 L950.3,1114.9 L953.1,1116.0 L955.9,1117.1 L958.7,1118.3 L961.4,1119.4 L964.2,1120.5 L967.0,1121.7 L969.8,1122.8 L972.6,1123.9 L975.4,1125.1 L978.2,1126.2 L981.0,1127.4 L983.7,1128.5 L986.5,1129.6 L989.3,1130.8 L992.1,1131.9 L994.9,1133.1 L997.7,1134.2 L1000.4,1135.4 L1003.2,1136.5 L1006.0,1137.7 L1008.8,1138.8 L1011.6,1140.0 L1014.4,1141.1 L1017.1,1142.2 L1019.9,1143.4 L1022.7,1144.5 L1025.5,1145.6 L1028.3,1146.8 L1031.1,1147.9 L1033.9,1149.0 L1036.6,1150.1 L1039.4,1151.3 L1042.2,1152.4 L1045.0,1153.5 L1047.8,1154.6 L1050.6,1155.7 L1053.4,1156.8 L1056.2,1157.9 L1059.0,1159.0" />
<path d="M1059.0,1159.0 L1084.8,1144.2" />
<path d="M1059.0,1159.0 L1058.7,1178.7" />
<path d="M1084.8,1144.2 L1084.8,1178.7" />
<path d="M1058.7,1178.7C1060.7,1179.2 1066.6,1181.4 1070.9,1181.4C1075.2,1181.4 1082.5,1179.2 1084.8,1178.7" />
<path d="M841.2,994.7C847.5,993.7 865.9,990.0 878.8,988.7C891.7,987.4 907.2,986.9 918.4,987.1C929.6,987.3 941.5,989.3 946.1,989.7" />
<path d="M836.2,1033.3C841.7,1031.0 858.5,1023.2 868.9,1019.4C879.3,1015.6 888.7,1012.6 898.6,1010.5C908.5,1008.4 923.3,1007.5 928.3,1006.9" />
<path d="M928.3,1006.9 L946.1,989.7" />
<path d="M928.3,1006.9 L926.6,1020.4" />
<path d="M946.1,989.7 L946.8,1020.4" />
<path d="M926.6,1020.4C928.2,1020.7 933.1,1022.2 936.5,1022.2C939.9,1022.2 945.1,1020.7 946.8,1020.4" />
<path d="M1481.7,1010.8 L1484.3,1009.9 L1486.9,1008.8 L1489.6,1007.8 L1492.4,1006.6 L1495.2,1005.3 L1498.0,1003.9 L1500.7,1002.4 L1503.4,1000.8 L1506.0,999.0 L1508.5,997.2 L1510.8,995.1 L1513.0,992.9 L1514.9,990.5 L1516.7,988.0 L1518.1,985.3 L1519.3,982.6 L1520.1,979.7 L1520.5,976.9 L1520.5,974.1 L1520.1,971.3 L1519.1,968.6 L1517.8,966.0 L1516.2,963.5 L1514.4,961.1 L1512.6,958.7 L1510.7,956.5 L1508.7,954.3 L1506.6,952.1 L1504.5,950.0 L1502.4,948.0 L1500.1,946.1 L1497.8,944.1 L1495.5,942.3 L1493.1,940.5 L1490.7,938.7 L1488.2,937.0 L1485.7,935.3 L1483.2,933.6 L1480.6,932.0 L1478.1,930.4 L1475.5,928.8 L1472.8,927.3 L1470.2,925.7 L1467.6,924.2 L1464.9,922.7 L1462.3,921.2 L1459.6,919.7 L1457.0,918.2 L1454.3,916.7 L1451.7,915.2 L1449.0,913.7 L1446.4,912.2 L1443.8,910.7 L1441.1,909.3 L1438.5,907.8 L1435.9,906.3 L1433.3,904.8 L1430.7,903.4 L1428.0,901.9 L1425.4,900.4 L1422.8,899.0 L1420.2,897.5 L1417.6,896.1 L1415.0,894.6 L1412.4,893.2 L1409.7,891.7 L1407.1,890.3 L1404.5,888.8 L1401.9,887.4 L1399.3,886.0 L1396.7,884.6 L1394.1,883.1 L1391.4,881.7 L1388.8,880.3 L1386.2,878.9 L1383.6,877.5 L1380.9,876.1 L1378.3,874.7 L1375.7,873.3 L1373.0,871.9 L1370.4,870.6 L1367.8,869.2 L1365.1,867.8 L1362.5,866.4 L1359.8,865.1 L1357.1,863.7 L1354.5,862.4 L1351.8,861.0 L1349.1,859.7 L1346.5,858.4 L1343.8,857.0 L1341.1,855.7 L1338.4,854.4 L1335.7,853.1 L1332.9,851.8 L1330.2,850.5 L1327.5,849.2 L1324.8,847.9 L1322.0,846.6 L1319.3,845.4 L1316.5,844.1 L1313.7,842.9 L1311.0,841.6 L1308.2,840.4 L1305.4,839.2 L1302.6,838.0 L1299.8,836.8 L1297.0,835.7 L1294.2,834.6 L1291.4,833.4 L1288.5,832.4 L1285.7,831.3 L1282.9,830.2 L1280.0,829.2 L1277.2,828.2 L1274.3,827.3 L1271.4,826.3 L1268.6,825.4 L1265.7,824.6 L1262.8,823.7 L1259.9,822.9 L1257.0,822.2 L1254.1,821.4 L1251.2,820.8 L1248.3,820.1 L1245.4,819.5 L1242.4,818.9 L1239.5,818.4 L1236.6,817.9 L1233.6,817.5 L1230.7,817.1 L1227.7,816.8 L1224.8,816.5 L1221.8,816.2 L1218.9,816.1 L1215.9,815.9 L1212.9,815.8 L1209.9,815.8 L1206.9,815.8 L1204.0,815.9 L1201.0,816.0 L1198.0,816.2 L1195.0,816.4 L1192.0,816.6 L1189.0,816.8 L1186.0,817.1 L1183.0,817.4 L1180.0,817.8 L1177.0,818.2 L1174.0,818.6 L1171.0,819.0 L1168.0,819.4 L1165.0,819.8 L1162.0,820.3 L1159.0,820.7 L1156.0,821.2 L1153.0,821.7 L1150.0,822.1 L1147.0,822.6 L1144.1,823.0 L1141.1,823.5 L1138.1,824.0 L1135.2,824.4 L1132.2,824.9 L1129.2,825.3 L1126.3,825.8 L1123.3,826.3 L1120.4,826.7 L1117.4,827.2 L1114.4,827.6 L1111.5,828.1 L1108.5,828.5 L1105.6,829.0 L1102.6,829.4 L1099.7,829.9 L1096.7,830.4 L1093.8,830.8 L1090.8,831.3 L1087.8,831.7 L1084.9,832.2 L1081.9,832.7 L1078.9,833.1 L1076.0,833.6 L1073.0,834.1 L1070.1,834.6 L1067.1,835.1 L1064.1,835.6 L1061.2,836.1 L1058.2,836.6 L1055.3,837.1 L1052.3,837.6 L1049.3,838.1 L1046.4,838.7 L1043.4,839.2 L1040.5,839.8 L1037.5,840.3 L1034.6,840.9 L1031.6,841.5 L1028.7,842.1 L1025.7,842.7 L1022.8,843.3 L1019.9,844.0 L1016.9,844.6 L1014.0,845.3 L1011.1,845.9 L1008.2,846.6 L1005.3,847.3 L1002.3,848.1 L999.4,848.8 L996.5,849.5 L993.6,850.3 L990.7,851.1 L987.8,851.9 L985.0,852.7 L982.1,853.6 L979.2,854.4 L976.3,855.3 L973.5,856.2 L970.6,857.1 L967.8,858.1 L964.9,859.0 L962.1,860.0 L959.3,861.0 L956.4,862.0 L953.6,863.1 L950.8,864.1 L948.0,865.2 L945.1,866.3 L942.3,867.3 L939.4,868.3 L936.6,869.4 L933.7,870.4 L930.9,871.5 L928.2,872.8 L925.6,874.2 L923.3,875.9 L921.2,877.9 L919.3,880.0 L917.7,882.4 L916.4,884.9 L915.3,887.7 L914.6,890.6 L914.2,893.7 L914.1,896.9 L914.3,900.0 L914.6,903.1 L915.2,906.1 L915.9,909.0 L916.9,911.9 L918.0,914.6 L919.2,917.3 L920.6,919.9 L922.2,922.4 L923.8,924.9 L925.6,927.3 L927.4,929.7 L929.4,932.0 L931.4,934.2 L933.5,936.4 L935.6,938.6 L937.8,940.7 L940.0,942.8 L942.2,944.9 L944.4,946.9 L946.7,948.9 L948.9,950.9 L951.2,952.9 L953.5,954.8 L955.9,956.7 L958.2,958.6 L960.5,960.5 L962.9,962.4 L965.2,964.2 L967.6,966.0 L970.0,967.9 L972.4,969.7 L974.8,971.5 L977.2,973.2 L979.6,975.0 L982.0,976.8 L984.4,978.6 L986.8,980.4 L989.2,982.1 L991.6,983.9 L994.0,985.7 L996.4,987.5 L998.8,989.3 L1001.2,991.1 L1003.6,992.9 L1006.0,994.7 L1008.4,996.5 L1010.8,998.4 L1013.1,1000.2 L1015.5,1002.1 L1017.8,1003.9 L1020.2,1005.8 L1022.5,1007.7 L1024.9,1009.6 L1027.2,1011.4 L1029.6,1013.3 L1031.9,1015.2 L1034.2,1017.1 L1036.5,1019.0 L1038.9,1021.0 L1041.2,1022.9 L1043.5,1024.8 L1045.8,1026.7 L1048.2,1028.6 L1050.5,1030.5 L1052.8,1032.5 L1055.1,1034.4 L1057.4,1036.3 L1059.7,1038.2 L1062.0,1040.1 L1064.4,1042.0 L1066.7,1043.9 L1069.0,1045.8 L1071.3,1047.7 L1073.6,1049.6 L1076.0,1051.5 L1078.3,1053.4 L1080.6,1055.3 L1083.0,1057.2 L1085.3,1059.0 L1087.6,1060.9 L1089.9,1062.8 L1092.2,1064.8 L1094.4,1066.8 L1096.6,1068.8 L1098.8,1070.9 L1100.9,1073.1 L1103.0,1075.3 L1105.1,1077.5 L1107.2,1079.7 L1109.3,1081.8 L1111.6,1083.8 L1113.9,1085.7 L1116.3,1087.4 L1118.9,1089.1 L1121.5,1090.5 L1124.1,1091.9 L1126.9,1093.1 L1129.6,1094.2 L1132.4,1095.1 L1135.3,1096.0 L1138.1,1096.7 L1141.0,1097.4 L1143.9,1097.9 L1146.9,1098.3 L1149.8,1098.7 L1152.8,1098.9 L1155.8,1099.1 L1158.8,1099.2 L1161.8,1099.2 L1164.8,1099.2 L1167.9,1099.1 L1170.9,1098.9 L1173.9,1098.7 L1177.0,1098.4 L1180.0,1098.1 L1183.1,1097.7 L1186.1,1097.3 L1189.1,1096.8 L1192.1,1096.4 L1195.2,1095.9 L1198.2,1095.4 L1201.1,1094.8 L1204.1,1094.3 L1207.1,1093.7 L1210.0,1093.2 L1213.0,1092.6 L1215.9,1092.0 L1218.9,1091.4 L1221.8,1090.8 L1224.7,1090.2 L1227.6,1089.6 L1230.5,1089.0 L1233.4,1088.3 L1236.4,1087.7 L1239.3,1087.1 L1242.2,1086.5 L1245.1,1085.9 L1248.0,1085.4 L1251.0,1084.8 L1253.9,1084.2 L1256.8,1083.7 L1259.8,1083.1 L1262.7,1082.6 L1265.7,1082.1 L1268.6,1081.5 L1271.6,1081.0 L1274.5,1080.5 L1277.5,1080.0 L1280.4,1079.5 L1283.4,1078.9 L1286.3,1078.4 L1289.3,1077.9 L1292.2,1077.4 L1295.2,1076.8 L1298.2,1076.3 L1301.1,1075.7 L1304.1,1075.1 L1307.0,1074.6 L1310.0,1074.0 L1312.9,1073.4 L1315.8,1072.8 L1318.8,1072.1 L1321.7,1071.5 L1324.6,1070.8 L1327.6,1070.1 L1330.5,1069.4 L1333.4,1068.6 L1336.3,1067.9 L1339.2,1067.1 L1342.1,1066.3 L1344.9,1065.4 L1347.8,1064.5 L1350.7,1063.6 L1353.5,1062.7 L1356.4,1061.7 L1359.2,1060.7 L1362.1,1059.7 L1364.9,1058.7 L1367.7,1057.6 L1370.5,1056.6 L1373.3,1055.5 L1376.1,1054.4 L1378.9,1053.2 L1381.7,1052.1 L1384.5,1050.9 L1387.3,1049.8 L1390.0,1048.6 L1392.8,1047.4 L1395.6,1046.3 L1398.3,1045.1 L1401.1,1043.9 L1403.9,1042.7 L1406.6,1041.5 L1409.4,1040.3 L1412.1,1039.2 L1414.9,1038.0 L1417.6,1036.8 L1420.4,1035.6 L1423.2,1034.4 L1425.9,1033.2 L1428.7,1032.0 L1431.4,1030.9 L1434.2,1029.7 L1436.9,1028.5 L1439.7,1027.4 L1442.5,1026.2 L1445.2,1025.1 L1448.0,1023.9 L1450.8,1022.8 L1453.5,1021.6 L1456.3,1020.5 L1459.1,1019.4 L1461.9,1018.3 L1464.7,1017.2 L1467.5,1016.1 L1470.3,1015.1 L1473.1,1014.0 L1475.9,1013.0 L1478.8,1011.9 L1481.6,1010.9" />
<path d="M915.2,900.3 L917.8,901.7 L920.5,903.1 L923.1,904.5 L925.8,905.9 L928.5,907.2 L931.2,908.6 L933.9,909.9 L936.6,911.2 L939.3,912.5 L942.1,913.8 L944.8,915.1 L947.5,916.4 L950.3,917.7 L953.0,919.0 L955.7,920.3 L958.4,921.6 L961.1,923.0 L963.8,924.3 L966.5,925.7 L969.2,927.1 L971.8,928.6 L974.5,930.1 L977.0,931.6 L979.6,933.1 L982.2,934.7 L984.7,936.3 L987.2,938.0 L989.6,939.7 L992.1,941.4 L994.5,943.2 L996.9,945.0 L999.2,946.8 L1001.6,948.7 L1003.9,950.6 L1006.2,952.5 L1008.5,954.4 L1010.8,956.4 L1013.1,958.4 L1015.3,960.3 L1017.6,962.3 L1019.8,964.3 L1022.1,966.3 L1024.3,968.3 L1026.6,970.3 L1028.8,972.4 L1031.1,974.4 L1033.3,976.3 L1035.6,978.3 L1037.9,980.3 L1040.1,982.3 L1042.4,984.2 L1044.7,986.2 L1047.0,988.1 L1049.3,990.0 L1051.6,992.0 L1053.9,993.9 L1056.2,995.8 L1058.6,997.7 L1060.9,999.6 L1063.2,1001.5 L1065.6,1003.4 L1067.9,1005.2 L1070.3,1007.1 L1072.6,1009.0 L1075.0,1010.8 L1077.3,1012.7 L1079.7,1014.6 L1082.1,1016.4 L1084.4,1018.3 L1086.8,1020.1 L1089.2,1022.0 L1091.5,1023.8 L1093.9,1025.7 L1096.3,1027.5 L1098.7,1029.4 L1101.1,1031.2 L1103.5,1033.1 L1105.9,1034.9 L1108.3,1036.7 L1110.7,1038.6 L1113.1,1040.4 L1115.5,1042.1 L1118.0,1043.9 L1120.4,1045.6 L1122.9,1047.3 L1125.4,1049.0 L1127.9,1050.6 L1130.5,1052.2 L1133.1,1053.7 L1135.7,1055.1 L1138.3,1056.6 L1141.0,1057.9 L1143.7,1059.2 L1146.5,1060.4 L1149.2,1061.5 L1152.1,1062.6 L1154.9,1063.6 M1155.1,1063.4 L1158.1,1063.2 L1161.1,1062.9 L1164.1,1062.7 L1167.1,1062.5 L1170.1,1062.3 L1173.1,1062.0 L1176.1,1061.8 L1179.1,1061.6 L1182.1,1061.3 L1185.1,1061.1 L1188.1,1060.8 L1191.1,1060.5 L1194.1,1060.3 L1197.1,1060.0 L1200.1,1059.7 L1203.1,1059.5 L1206.1,1059.2 L1209.1,1058.9 L1212.1,1058.6 L1215.2,1058.3 L1218.2,1058.0 L1221.2,1057.7 L1224.2,1057.3 L1227.2,1057.0 L1230.2,1056.7 L1233.2,1056.4 L1236.2,1056.0 L1239.2,1055.7 L1242.2,1055.3 L1245.2,1054.9 L1248.3,1054.6 L1251.3,1054.2 L1254.3,1053.8 L1257.3,1053.4 L1260.3,1053.0 L1263.3,1052.6 L1266.3,1052.2 L1269.3,1051.8 L1272.3,1051.4 L1275.3,1050.9 L1278.3,1050.5 L1281.3,1050.0 L1284.3,1049.6 L1287.3,1049.1 L1290.3,1048.6 L1293.3,1048.2 L1296.2,1047.7 L1299.2,1047.2 L1302.2,1046.7 L1305.2,1046.1 L1308.2,1045.6 L1311.2,1045.1 L1314.1,1044.5 L1317.1,1044.0 L1320.1,1043.4 L1323.1,1042.8 L1326.0,1042.3 L1329.0,1041.7 L1332.0,1041.1 L1334.9,1040.5 L1337.9,1039.8 L1340.9,1039.2 L1343.8,1038.6 L1346.8,1037.9 L1349.7,1037.2 L1352.7,1036.6 L1355.6,1035.9 L1358.5,1035.2 L1361.5,1034.5 L1364.4,1033.8 L1367.3,1033.0 L1370.3,1032.3 L1373.2,1031.6 L1376.1,1030.8 L1379.0,1030.0 L1382.0,1029.2 L1384.9,1028.4 L1387.8,1027.6 L1390.7,1026.8 L1393.6,1026.0 L1396.5,1025.1 L1399.4,1024.3 L1402.3,1023.4 L1405.1,1022.5 L1408.0,1021.6 L1410.9,1020.7 L1413.8,1019.8 L1416.6,1018.9 L1419.5,1017.9 L1422.4,1017.0 L1425.2,1016.0 L1428.1,1015.0 L1430.9,1014.0 L1433.8,1013.0 L1436.6,1012.0 L1439.4,1010.9 L1442.3,1009.9 L1445.1,1008.8 L1447.9,1007.7 L1450.7,1006.6 L1453.5,1005.5 L1456.3,1004.4 L1459.1,1003.2 L1461.9,1002.1 L1464.7,1000.9 L1467.5,999.7 L1470.3,998.5 L1473.0,997.3 L1475.8,996.1 L1478.6,994.8 L1481.3,993.5 L1484.1,992.3 L1486.8,991.0 L1489.5,989.7 L1492.3,988.3 L1495.0,987.0 L1497.7,985.6 L1500.4,984.3 L1503.1,982.9 L1505.8,981.5 L1508.5,980.0 L1511.2,978.6 L1513.9,977.1 L1516.5,975.7 L1519.2,974.2" />
<path d="M922.8,927.5 L920.2,928.2 L917.6,929.7 L915.2,931.8 L913.1,934.4 L911.3,937.2 L909.9,940.3 L909.2,943.3 L909.1,946.2 L909.6,949.0 L910.6,951.6 L912.0,954.1 L913.7,956.5 L915.7,958.9 L917.7,961.2 L919.7,963.4 L921.8,965.6 L924.0,967.8 L926.1,969.9 L928.3,972.0 L930.5,974.0 L932.8,976.0 L935.0,978.0 L937.3,980.0 L939.6,981.9 L941.9,983.8 L944.2,985.7 L946.6,987.6 L948.9,989.4 L951.3,991.3 L953.7,993.1 L956.1,994.9 L958.4,996.8 L960.8,998.6 L963.2,1000.4 L965.6,1002.2 L968.0,1004.0 L970.4,1005.8 L972.8,1007.7 L975.2,1009.5 L977.5,1011.4 L979.9,1013.2 L982.3,1015.1 L984.7,1016.9 L987.0,1018.8 L989.4,1020.7 L991.7,1022.6 L994.1,1024.5 L996.4,1026.3 L998.8,1028.2 L1001.1,1030.1 L1003.5,1032.0 L1005.8,1033.9 L1008.1,1035.8 L1010.5,1037.7 L1012.8,1039.6 L1015.2,1041.5 L1017.5,1043.4 L1019.8,1045.3 L1022.2,1047.2 L1024.5,1049.0 L1026.9,1050.9 L1029.2,1052.8 L1031.5,1054.7 L1033.9,1056.5 L1036.2,1058.4 L1038.6,1060.2 L1040.9,1062.1 L1043.3,1063.9 L1045.6,1065.8 L1048.0,1067.6 L1050.3,1069.4 L1052.7,1071.2 L1055.1,1073.0 L1057.4,1074.9 L1059.8,1076.7 L1062.2,1078.5 L1064.5,1080.3 L1066.9,1082.2 L1069.3,1084.0 L1071.7,1085.8 L1074.0,1087.7 L1076.4,1089.5 L1078.8,1091.4 L1081.2,1093.3 L1083.6,1095.2 L1085.9,1097.1 L1088.3,1099.0 L1090.7,1100.9 L1093.1,1102.9 L1095.5,1104.8 L1097.9,1106.8 L1100.2,1108.8 L1102.7,1110.7 L1105.1,1112.6 L1107.5,1114.5 L1109.9,1116.4 L1112.4,1118.2 L1114.9,1120.0 L1117.4,1121.7 L1119.9,1123.3 L1122.4,1124.9 L1125.0,1126.3 L1127.6,1127.7 L1130.2,1129.0 L1132.9,1130.2 L1135.6,1131.3 L1138.3,1132.3 L1141.1,1133.1 L1143.9,1133.8 L1146.8,1134.5 L1149.6,1135.0 L1152.6,1135.4 L1155.5,1135.7 L1158.4,1136.0 L1161.4,1136.2 L1164.4,1136.3 L1167.4,1136.4 L1170.4,1136.4 L1173.5,1136.3 L1176.5,1136.2 L1179.6,1136.1 L1182.6,1136.0 L1185.7,1135.8 L1188.8,1135.6 L1191.9,1135.4 L1194.9,1135.2 L1198.0,1135.0 L1201.0,1134.8 L1204.1,1134.6 L1207.1,1134.4 L1210.2,1134.2 L1213.2,1134.1 L1216.2,1133.9 L1219.2,1133.7 L1222.3,1133.5 L1225.3,1133.3 L1228.3,1133.1 L1231.3,1132.9 L1234.3,1132.7 L1237.3,1132.5 L1240.3,1132.3 L1243.2,1132.1 L1246.2,1131.8 L1249.2,1131.5 L1252.2,1131.3 L1255.2,1131.0 L1258.1,1130.7 L1261.1,1130.3 L1264.1,1130.0 L1267.0,1129.6 L1270.0,1129.2 L1273.0,1128.8 L1275.9,1128.4 L1278.9,1127.9 L1281.8,1127.5 L1284.8,1127.0 L1287.7,1126.4 L1290.7,1125.9 L1293.6,1125.3 L1296.6,1124.8 L1299.5,1124.2 L1302.4,1123.6 L1305.4,1122.9 L1308.3,1122.3 L1311.2,1121.6 L1314.1,1120.9 L1317.1,1120.2 L1320.0,1119.4 L1322.9,1118.7 L1325.8,1117.9 L1328.7,1117.2 L1331.6,1116.4 L1334.5,1115.5 L1337.4,1114.7 L1340.3,1113.9 L1343.2,1113.0 L1346.1,1112.1 L1348.9,1111.2 L1351.8,1110.3 L1354.7,1109.4 L1357.6,1108.4 L1360.4,1107.5 L1363.3,1106.5 L1366.1,1105.5 L1369.0,1104.5 L1371.8,1103.5 L1374.7,1102.5 L1377.5,1101.4 L1380.3,1100.4 L1383.2,1099.3 L1386.0,1098.2 L1388.8,1097.1 L1391.6,1096.0 L1394.4,1094.9 L1397.2,1093.8 L1400.0,1092.6 L1402.8,1091.5 L1405.6,1090.3 L1408.3,1089.2 L1411.1,1088.0 L1413.9,1086.8 L1416.6,1085.6 L1419.4,1084.4 L1422.1,1083.1 L1424.8,1081.9 L1427.6,1080.6 L1430.3,1079.4 L1433.0,1078.1 L1435.7,1076.8 L1438.4,1075.4 L1441.0,1074.1 L1443.7,1072.7 L1446.3,1071.3 L1449.0,1069.9 L1451.6,1068.4 L1454.2,1066.9 L1456.8,1065.4 L1459.4,1063.9 L1461.9,1062.3 L1464.4,1060.7 L1467.0,1059.0 L1469.5,1057.3 L1471.9,1055.6 L1474.4,1053.8 L1476.8,1052.0 L1479.2,1050.2 L1481.6,1048.3 L1484.0,1046.3 L1486.3,1044.4 L1488.6,1042.3 L1490.8,1040.2 L1492.8,1038.0 L1494.6,1035.5 L1495.9,1032.9 L1496.7,1030.0 L1497.1,1027.0 L1496.9,1023.9 L1496.1,1020.9 L1494.6,1018.1 L1492.6,1015.8 L1490.0,1014.1 L1486.9,1012.9 L1483.9,1011.9 L1481.6,1010.9" />
<path d="M914.2,941.2 L915.5,943.9 L917.0,946.5 L918.6,949.0 L920.3,951.4 L922.1,953.7 L924.1,956.0 L926.1,958.1 L928.2,960.2 L930.4,962.3 L932.6,964.3 L934.9,966.3 L937.2,968.2 L939.6,970.2 L941.9,972.1 L944.3,974.0 L946.6,976.0 L948.9,977.9 L951.2,979.9 L953.5,981.8 L955.8,983.8 L958.1,985.8 L960.4,987.8 L962.6,989.8 L964.9,991.8 L967.1,993.8 L969.3,995.8 L971.6,997.8 L973.8,999.8 L976.0,1001.8 L978.3,1003.8 L980.5,1005.9 L982.7,1007.9 L985.0,1009.9 L987.2,1011.9 L989.4,1013.9 L991.7,1015.9 L993.9,1017.9 L996.1,1019.9 L998.4,1021.9 L1000.7,1023.9 L1002.9,1025.9 L1005.2,1027.8 L1007.5,1029.8 L1009.8,1031.8 L1012.1,1033.7 L1014.4,1035.6 L1016.8,1037.6 L1019.1,1039.5 L1021.5,1041.4 L1023.8,1043.3 L1026.2,1045.1 L1028.6,1047.0 L1030.9,1048.9 L1033.3,1050.7 L1035.7,1052.5 L1038.1,1054.3 L1040.6,1056.1 L1043.0,1057.9 L1045.4,1059.6 L1047.9,1061.4 L1050.3,1063.1 L1052.8,1064.8 L1055.2,1066.5 L1057.7,1068.2 L1060.2,1069.9 L1062.6,1071.6 L1065.1,1073.3 L1067.6,1075.0 L1070.0,1076.7 L1072.5,1078.5 L1075.0,1080.2 L1077.4,1081.9 L1079.9,1083.7 L1082.3,1085.4 L1084.8,1087.2 L1087.2,1089.0 L1089.7,1090.8 L1092.1,1092.7 L1094.5,1094.6 L1096.9,1096.5 L1099.3,1098.4 L1101.7,1100.3 L1104.1,1102.2 L1106.5,1104.0 L1109.0,1105.9 L1111.4,1107.8 L1113.8,1109.6 L1116.3,1111.3 L1118.8,1113.1 L1121.3,1114.8 L1123.8,1116.4 L1126.4,1117.9 L1128.9,1119.4 L1131.5,1120.8 L1134.2,1122.2 L1136.9,1123.4 L1139.6,1124.5 L1142.3,1125.6 L1145.1,1126.5 L1147.9,1127.2 L1150.7,1127.9 L1153.6,1128.5 L1156.5,1128.9 L1159.4,1129.3 L1162.4,1129.6 L1165.4,1129.8 L1168.4,1129.9 L1171.4,1130.0 L1174.4,1130.0 L1177.5,1130.0 L1180.5,1129.9 L1183.6,1129.8 L1186.7,1129.6 L1189.7,1129.4 L1192.8,1129.2 L1195.9,1129.0 L1198.9,1128.8 L1202.0,1128.6 L1205.1,1128.4 L1208.1,1128.2 L1211.2,1128.0 L1214.2,1127.8 L1217.3,1127.6 L1220.3,1127.4 L1223.3,1127.1 L1226.4,1126.9 L1229.4,1126.6 L1232.4,1126.4 L1235.5,1126.1 L1238.5,1125.9 L1241.5,1125.6 L1244.5,1125.3 L1247.5,1125.0 L1250.5,1124.7 L1253.5,1124.3 L1256.5,1124.0 L1259.5,1123.6 L1262.4,1123.3 L1265.4,1122.9 L1268.4,1122.5 L1271.4,1122.0 L1274.3,1121.6 L1277.3,1121.1 L1280.3,1120.7 L1283.2,1120.2 L1286.2,1119.6 L1289.1,1119.1 L1292.0,1118.5 L1295.0,1117.9 L1297.9,1117.3 L1300.8,1116.7 L1303.7,1116.0 L1306.7,1115.3 L1309.6,1114.6 L1312.5,1113.9 L1315.4,1113.1 L1318.3,1112.4 L1321.2,1111.5 L1324.1,1110.7 L1326.9,1109.9 L1329.8,1109.0 L1332.7,1108.1 L1335.6,1107.2 L1338.4,1106.3 L1341.3,1105.4 L1344.1,1104.4 L1347.0,1103.4 L1349.8,1102.4 L1352.7,1101.4 L1355.5,1100.3 L1358.3,1099.3 L1361.2,1098.2 L1364.0,1097.1 L1366.8,1096.0 L1369.6,1094.9 L1372.4,1093.8 L1375.2,1092.6 L1378.0,1091.5 L1380.8,1090.3 L1383.6,1089.1 L1386.4,1087.9 L1389.1,1086.7 L1391.9,1085.5 L1394.7,1084.2 L1397.4,1083.0 L1400.2,1081.7 L1402.9,1080.5 L1405.7,1079.2 L1408.4,1077.9 L1411.2,1076.6 L1413.9,1075.3 L1416.6,1074.0 L1419.3,1072.6 L1422.0,1071.3 L1424.7,1070.0 L1427.5,1068.6 L1430.2,1067.3 L1432.8,1065.9 L1435.5,1064.6 L1438.2,1063.2 L1440.9,1061.8 L1443.6,1060.4 L1446.2,1059.0 L1448.9,1057.7 L1451.5,1056.3 L1454.2,1054.9 L1456.8,1053.4 L1459.5,1052.0 L1462.1,1050.6 L1464.7,1049.1 L1467.3,1047.6 L1469.8,1046.1 L1472.4,1044.5 L1475.0,1043.0 L1477.5,1041.4 L1480.0,1039.7 L1482.5,1038.0 L1485.0,1036.3 L1487.4,1034.5 L1489.9,1032.7 L1492.3,1030.9 L1494.7,1028.9" stroke-dasharray="8 9.5" stroke-linecap="butt" stroke-width="3"/>
<path d="M1185.9,1134.0 L1185.0,1199.9" />
<path d="M1233.2,1133.0 L1231.8,1199.5" />
<path d="M1184.2,1199.9 L1187.0,1201.2 L1189.9,1202.2 L1192.8,1203.1 L1195.8,1203.8 L1198.9,1204.3 L1201.9,1204.7 L1205.0,1204.9 L1208.1,1204.9 L1211.2,1204.8 L1214.3,1204.5 L1217.4,1204.0 L1220.4,1203.4 L1223.4,1202.7 L1226.3,1201.8 L1229.2,1200.7 L1232.0,1199.6" />
<path d="M1185.9,1203.2C1187.7,1204.0 1192.0,1207.1 1196.5,1208.1C1201.0,1209.0 1207.1,1209.5 1212.8,1208.9C1218.5,1208.4 1227.7,1205.5 1230.7,1204.8" />
<path d="M1206.3,1209.7C1207.1,1212.2 1210.7,1219.8 1211.1,1224.4C1211.5,1229.0 1210.3,1234.2 1208.7,1237.4C1207.1,1240.7 1202.6,1242.8 1201.4,1243.9" />
<path d="M1217.7,1209.7C1217.2,1212.2 1214.7,1219.8 1214.4,1224.4C1214.1,1229.0 1214.9,1234.2 1216.0,1237.4C1217.1,1240.7 1220.1,1242.8 1220.9,1243.9" />
<path d="M1193.2,1248.3C1195.4,1248.7 1202.2,1250.7 1206.3,1250.5C1210.4,1250.3 1215.3,1248.3 1217.7,1247.2C1220.1,1246.1 1220.4,1244.5 1220.9,1244.0" />
<path d="M1185.0,1197.6 L1182.0,1197.2 L1179.0,1196.8 L1176.0,1196.5 L1173.0,1196.1 L1170.0,1195.8 L1167.0,1195.5 L1164.0,1195.2 L1161.0,1194.9 L1158.0,1194.6 L1154.9,1194.3 L1151.9,1194.1 L1148.9,1193.8 L1145.9,1193.6 L1142.9,1193.4 L1139.9,1193.2 L1136.9,1193.0 L1133.8,1192.8 L1130.8,1192.7 L1127.8,1192.5 L1124.8,1192.4 L1121.8,1192.3 L1118.7,1192.2 L1115.7,1192.1 L1112.7,1192.1 L1109.7,1192.0 L1106.6,1192.0 L1103.6,1191.9 L1100.6,1191.9 L1097.6,1191.9 L1094.6,1192.0 L1091.5,1192.0 L1088.5,1192.1 L1085.5,1192.1 L1082.5,1192.2 L1079.5,1192.3 L1076.4,1192.4 L1073.4,1192.6 L1070.4,1192.7 L1067.4,1192.9 L1064.4,1193.1 L1061.4,1193.3 L1058.4,1193.5 L1055.3,1193.8 L1052.3,1194.0 L1049.3,1194.3 L1046.3,1194.6 L1043.3,1194.9 L1040.3,1195.2 L1037.3,1195.5 L1034.3,1195.9 L1031.3,1196.3 L1028.3,1196.7 L1025.3,1197.1 L1022.4,1197.5 L1019.4,1198.0 L1016.4,1198.5 L1013.4,1198.9 L1010.4,1199.4 L1007.4,1200.0 L1004.5,1200.5 L1001.5,1201.1 L998.5,1201.7 L995.6,1202.3 L992.6,1202.9 L989.7,1203.5 L986.7,1204.2 L983.7,1204.9 L980.8,1205.6 L977.8,1206.3 L974.9,1207.0" />
<path d="M1149.4,1232.1 L1146.5,1231.2 L1143.7,1230.4 L1140.8,1229.5 L1137.9,1228.7 L1135.0,1227.9 L1132.1,1227.2 L1129.1,1226.4 L1126.2,1225.7 L1123.3,1225.1 L1120.3,1224.4 L1117.4,1223.8 L1114.5,1223.2 L1111.5,1222.6 L1108.5,1222.1 L1105.6,1221.5 L1102.6,1221.0 L1099.6,1220.6 L1096.7,1220.1 L1093.7,1219.7 L1090.7,1219.3 L1087.7,1218.9 L1084.7,1218.5 L1081.7,1218.2 L1078.7,1217.9 L1075.7,1217.6 L1072.7,1217.3 L1069.7,1217.0 L1066.7,1216.8 L1063.7,1216.6 L1060.7,1216.4 L1057.7,1216.2 L1054.7,1216.1 L1051.7,1215.9 L1048.7,1215.8 L1045.6,1215.7 L1042.6,1215.7 L1039.6,1215.6 L1036.6,1215.6 L1033.6,1215.5 L1030.6,1215.5 L1027.6,1215.5 L1024.5,1215.6 L1021.5,1215.6 L1018.5,1215.7 L1015.5,1215.7 L1012.5,1215.8 L1009.5,1215.9 L1006.5,1216.1 L1003.5,1216.2 L1000.5,1216.4 L997.5,1216.5 L994.5,1216.7" />
<path d="M974.9,1206.9 L994.5,1216.7" />
<path d="M974.9,1206.9 L974.9,1233.0" />
<path d="M994.5,1216.7 L994.5,1232.2" />
<path d="M974.9,1233.0C976.5,1233.3 981.4,1234.9 984.7,1234.8C988.0,1234.7 992.9,1232.6 994.5,1232.2" />
<path d="M1183.7,1207.9 L1181.1,1209.4 L1178.5,1211.0 L1175.9,1212.5 L1173.3,1214.1 L1170.7,1215.6 L1168.1,1217.2 L1165.6,1218.7 L1163.0,1220.3 L1160.4,1221.8 L1157.8,1223.4 L1155.2,1225.0 L1152.6,1226.5 L1150.0,1228.1 L1147.4,1229.7 L1144.8,1231.2 L1142.2,1232.8 L1139.6,1234.4 L1137.0,1236.0 L1134.4,1237.6 L1131.8,1239.1 L1129.3,1240.7 L1126.7,1242.3 L1124.1,1243.9 L1121.5,1245.6 L1119.0,1247.2 L1116.4,1248.8 L1113.8,1250.4 L1111.3,1252.1 L1108.7,1253.7 L1106.2,1255.3 L1103.6,1257.0 L1101.1,1258.7 L1098.5,1260.3 L1096.0,1262.0 L1093.5,1263.7 L1091.0,1265.4 L1088.5,1267.1 L1086.0,1268.8 L1083.5,1270.6 L1081.0,1272.3 L1078.5,1274.0 L1076.1,1275.8 L1073.6,1277.6 L1071.2,1279.4 L1068.7,1281.1 L1066.3,1282.9 L1063.9,1284.8 L1061.5,1286.6 L1059.1,1288.4 L1056.7,1290.3 L1054.3,1292.1 L1051.9,1294.0 L1049.6,1295.9 L1047.2,1297.8 L1044.9,1299.7 L1042.6,1301.7 L1040.3,1303.6 L1038.0,1305.6 L1035.7,1307.6 L1033.4,1309.5 L1031.2,1311.6 L1028.9,1313.6 L1026.7,1315.6 L1024.5,1317.7 L1022.3,1319.8 L1020.1,1321.8 L1017.9,1324.0 L1015.8,1326.1 L1013.6,1328.2 L1011.5,1330.4 L1009.4,1332.6 L1007.3,1334.8 L1005.3,1337.0 L1003.2,1339.2 L1001.2,1341.5 L999.2,1343.8 L997.2,1346.1 L995.2,1348.4 L993.2,1350.7 L991.3,1353.1 L989.3,1355.5 L987.4,1357.9 L985.6,1360.3" />
<path d="M1206.5,1240.3 L1203.8,1241.6 L1201.1,1243.0 L1198.4,1244.4 L1195.7,1245.7 L1193.1,1247.1 L1190.4,1248.5 L1187.7,1249.9 L1185.1,1251.3 L1182.4,1252.7 L1179.8,1254.1 L1177.1,1255.6 L1174.5,1257.0 L1171.8,1258.5 L1169.2,1259.9 L1166.5,1261.4 L1163.9,1262.8 L1161.3,1264.3 L1158.7,1265.8 L1156.0,1267.3 L1153.4,1268.8 L1150.8,1270.3 L1148.2,1271.8 L1145.6,1273.3 L1143.0,1274.8 L1140.4,1276.4 L1137.8,1277.9 L1135.3,1279.5 L1132.7,1281.0 L1130.1,1282.6 L1127.5,1284.2 L1125.0,1285.8 L1122.4,1287.4 L1119.9,1288.9 L1117.3,1290.6 L1114.8,1292.2 L1112.2,1293.8 L1109.7,1295.4 L1107.2,1297.1 L1104.7,1298.7 L1102.1,1300.4 L1099.6,1302.0 L1097.1,1303.7 L1094.6,1305.4 L1092.1,1307.1 L1089.6,1308.7 L1087.2,1310.5 L1084.7,1312.2 L1082.2,1313.9 L1079.7,1315.6 L1077.3,1317.3 L1074.8,1319.1 L1072.4,1320.8 L1069.9,1322.6 L1067.5,1324.4 L1065.1,1326.1 L1062.6,1327.9 L1060.2,1329.7 L1057.8,1331.5 L1055.4,1333.3 L1053.0,1335.1 L1050.6,1337.0 L1048.2,1338.8 L1045.8,1340.6 L1043.4,1342.5 L1041.1,1344.3 L1038.7,1346.2 L1036.3,1348.1 L1034.0,1350.0 L1031.6,1351.8 L1029.3,1353.7 L1027.0,1355.7 L1024.7,1357.6 L1022.3,1359.5 L1020.0,1361.4 L1017.7,1363.4 L1015.4,1365.3 L1013.1,1367.3 L1010.8,1369.2" />
<path d="M985.5,1360.2 L1010.8,1369.2" />
<path d="M985.5,1360.2 L986.3,1391.2" />
<path d="M1010.8,1369.2 L1010.8,1387.9" />
<path d="M986.3,1391.2C988.2,1391.6 993.6,1394.3 997.7,1393.8C1001.8,1393.2 1008.6,1388.9 1010.8,1387.9" />
<path d="M1219.6,1209.0 L1222.7,1209.5 L1225.7,1209.9 L1228.7,1210.4 L1231.7,1210.9 L1234.7,1211.5 L1237.7,1212.0 L1240.7,1212.6 L1243.6,1213.2 L1246.6,1213.8 L1249.6,1214.4 L1252.5,1215.1 L1255.5,1215.8 L1258.4,1216.5 L1261.4,1217.2 L1264.3,1217.9 L1267.2,1218.6 L1270.2,1219.4 L1273.1,1220.2 L1276.0,1221.0 L1278.9,1221.8 L1281.8,1222.7 L1284.7,1223.5 L1287.6,1224.4 L1290.5,1225.3 L1293.4,1226.2 L1296.2,1227.1 L1299.1,1228.0 L1302.0,1229.0 L1304.8,1229.9 L1307.7,1230.9 L1310.5,1231.9 L1313.4,1232.9 L1316.2,1234.0 L1319.1,1235.0 L1321.9,1236.1 L1324.7,1237.1 L1327.5,1238.2 L1330.4,1239.3 L1333.2,1240.4 L1336.0,1241.6 L1338.8,1242.7 L1341.6,1243.8 L1344.4,1245.0 L1347.2,1246.2 L1350.0,1247.4 L1352.7,1248.5 L1355.5,1249.8 L1358.3,1251.0 L1361.1,1252.2 L1363.8,1253.4 L1366.6,1254.7 L1369.3,1256.0 L1372.1,1257.2 L1374.8,1258.5 L1377.6,1259.8 L1380.3,1261.1 L1383.0,1262.4 L1385.8,1263.7 L1388.5,1265.1 L1391.2,1266.4 L1393.9,1267.7 L1396.7,1269.1 L1399.4,1270.4 L1402.1,1271.8 L1404.8,1273.2 L1407.5,1274.6 L1410.2,1275.9 L1412.9,1277.3 L1415.6,1278.7 L1418.3,1280.1 L1420.9,1281.6 L1423.6,1283.0 L1426.3,1284.4 L1429.0,1285.8 L1431.6,1287.3 L1434.3,1288.7 L1437.0,1290.1 L1439.6,1291.6 L1442.3,1293.0 L1444.9,1294.5 L1447.6,1295.9 L1450.2,1297.4 L1452.9,1298.9 L1455.5,1300.3 L1458.2,1301.8 L1460.8,1303.3 L1463.4,1304.7 L1466.1,1306.2 L1468.7,1307.7 L1471.3,1309.2 L1473.9,1310.7 L1476.6,1312.1" />
<path d="M1219.7,1243.0 L1222.7,1243.8 L1225.6,1244.5 L1228.5,1245.3 L1231.5,1246.0 L1234.4,1246.8 L1237.3,1247.5 L1240.2,1248.3 L1243.2,1249.1 L1246.1,1249.9 L1249.0,1250.6 L1251.9,1251.4 L1254.8,1252.3 L1257.8,1253.1 L1260.7,1253.9 L1263.6,1254.7 L1266.5,1255.5 L1269.4,1256.4 L1272.3,1257.2 L1275.2,1258.1 L1278.1,1258.9 L1281.0,1259.8 L1283.9,1260.7 L1286.8,1261.6 L1289.7,1262.4 L1292.6,1263.3 L1295.5,1264.2 L1298.4,1265.1 L1301.3,1266.0 L1304.2,1267.0 L1307.0,1267.9 L1309.9,1268.8 L1312.8,1269.7 L1315.7,1270.7 L1318.6,1271.6 L1321.4,1272.6 L1324.3,1273.6 L1327.2,1274.5 L1330.0,1275.5 L1332.9,1276.5 L1335.8,1277.5 L1338.6,1278.5 L1341.5,1279.5 L1344.3,1280.5 L1347.2,1281.5 L1350.1,1282.5 L1352.9,1283.5 L1355.7,1284.5 L1358.6,1285.6 L1361.4,1286.6 L1364.3,1287.7 L1367.1,1288.7 L1370.0,1289.8 L1372.8,1290.8 L1375.6,1291.9 L1378.5,1293.0 L1381.3,1294.0 L1384.1,1295.1 L1386.9,1296.2 L1389.8,1297.3 L1392.6,1298.4 L1395.4,1299.5 L1398.2,1300.7 L1401.0,1301.8 L1403.8,1302.9 L1406.6,1304.0 L1409.4,1305.2 L1412.2,1306.3 L1415.0,1307.5 L1417.8,1308.6 L1420.6,1309.8 L1423.4,1310.9 L1426.2,1312.1 L1429.0,1313.3 L1431.8,1314.5 L1434.6,1315.6 L1437.4,1316.8 L1440.1,1318.0 L1442.9,1319.2 L1445.7,1320.4 L1448.4,1321.7 L1451.2,1322.9 L1454.0,1324.1" />
<path d="M1453.9,1324.3 L1476.6,1312.1" />
<path d="M1453.9,1324.3 L1453.9,1342.7" />
<path d="M1476.6,1312.1 L1476.6,1341.8" />
<path d="M1453.9,1342.7C1455.9,1343.0 1462.3,1344.8 1466.1,1344.6C1469.9,1344.4 1474.8,1342.3 1476.6,1341.8" />
<path d="M1231.9,1192.4C1238.0,1190.7 1255.2,1184.5 1268.6,1181.9C1282.0,1179.3 1297.7,1177.1 1312.3,1176.7C1326.9,1176.3 1348.7,1178.9 1356.0,1179.3" />
<path d="M1259.9,1216.9C1265.7,1214.6 1281.4,1206.8 1294.8,1202.9C1308.2,1199.0 1332.7,1194.9 1340.3,1193.3" />
<path d="M1340.3,1193.3 L1356.0,1179.3" />
<path d="M1340.3,1193.3 L1340.3,1205.5" />
<path d="M1356.0,1179.3 L1356.9,1205.5" />
<path d="M1340.3,1205.5C1341.8,1205.7 1346.2,1206.6 1349.0,1206.6C1351.8,1206.6 1355.6,1205.7 1356.9,1205.5" />
<circle cx="498.7" cy="425.2" r="7.6" fill="#fff"/>
<circle cx="672.1" cy="434" r="7.6" fill="#fff"/>
<circle cx="537.6" cy="583.2" r="7.6" fill="#fff"/>
<circle cx="713.8" cy="576.6" r="7.6" fill="#fff"/>
<ellipse cx="769.6" cy="1018.4" rx="28.5" ry="6.8"/>
</g>
<g>
<polygon points="39.4,262.8 27.6,305.8 51.1,305.8" fill="#231f20"/>
<polygon points="39.4,1393.5 51.1,1350.5 27.6,1350.5" fill="#231f20"/>
<line x1="39.3" y1="300.0" x2="39.3" y2="764.5" stroke="#231f20" stroke-width="0.9"/>
<line x1="39.3" y1="888.0" x2="39.3" y2="1360.0" stroke="#231f20" stroke-width="0.9"/>
<text transform="translate(43.2,827.6) rotate(-90.00)" x="0" y="13.3" text-anchor="middle" font-size="37" fill="#231f20">96,0</text>
<line x1="10.0" y1="262.9" x2="284.0" y2="262.9" stroke="#8a8a8a" stroke-width="1.6"/>
<line x1="10.0" y1="1393.8" x2="284.0" y2="1393.8" stroke="#8a8a8a" stroke-width="1.6"/>
<line x1="295.0" y1="1393.8" x2="324.5" y2="1393.8" stroke="#8a8a8a" stroke-width="1.6"/>
<polygon points="170.1,684.8 158.3,727.8 181.8,727.8" fill="#231f20"/>
<polygon points="170.1,1393.5 181.8,1350.5 158.3,1350.5" fill="#231f20"/>
<line x1="170.1" y1="720.0" x2="170.1" y2="991.6" stroke="#231f20" stroke-width="0.9"/>
<line x1="170.1" y1="1084.3" x2="170.1" y2="1360.0" stroke="#231f20" stroke-width="0.9"/>
<text transform="translate(169.4,1037.3) rotate(-90.00)" x="0" y="13.3" text-anchor="middle" font-size="37" fill="#231f20">55,0</text>
<line x1="140.5" y1="684.4" x2="183.3" y2="684.4" stroke="#8a8a8a" stroke-width="1.4"/>
<polygon points="295.5,756.5 283.8,799.5 307.2,799.5" fill="#231f20"/>
<polygon points="295.5,1393.5 307.2,1350.5 283.8,1350.5" fill="#231f20"/>
<line x1="295.5" y1="790.0" x2="295.5" y2="1026.6" stroke="#231f20" stroke-width="0.9"/>
<line x1="295.5" y1="1119.8" x2="295.5" y2="1360.0" stroke="#231f20" stroke-width="0.9"/>
<text transform="translate(295.4,1073.2) rotate(-90.00)" x="0" y="13.3" text-anchor="middle" font-size="37" fill="#231f20">48,0</text>
<line x1="285.0" y1="755.8" x2="325.0" y2="755.8" stroke="#8a8a8a" stroke-width="1.4"/>
<line x1="420.2" y1="670.1" x2="457.3" y2="670.1" stroke="#555" stroke-width="1.4"/>
<line x1="420.2" y1="788.4" x2="457.3" y2="788.4" stroke="#555" stroke-width="1.4"/>
<polygon points="449.4,669.8 461.1,626.8 437.6,626.8" fill="#231f20"/>
<line x1="449.4" y1="560.4" x2="449.4" y2="640.0" stroke="#231f20" stroke-width="0.9"/>
<polygon points="449.4,788.6 437.6,831.6 461.1,831.6" fill="#231f20"/>
<line x1="449.4" y1="820.0" x2="449.4" y2="897.6" stroke="#231f20" stroke-width="0.9"/>
<text transform="translate(453.6,730.1) rotate(-90.00)" x="0" y="13.3" text-anchor="middle" font-size="37" fill="#231f20">20,0</text>
<polygon points="516.5,140.2 550.7,168.8 560.5,147.5" fill="#231f20"/>
<polygon points="992.0,359.0 957.8,330.4 948.0,351.7" fill="#231f20"/>
<line x1="540.0" y1="150.0" x2="648.5" y2="201.3" stroke="#231f20" stroke-width="0.9"/>
<line x1="848.7" y1="292.5" x2="960.0" y2="344.0" stroke="#231f20" stroke-width="0.9"/>
<text transform="translate(754.0,249.0) rotate(24.67)" x="0" y="13.3" text-anchor="middle" font-size="37" fill="#231f20">92,0 cm</text>
<line x1="516.5" y1="114.0" x2="516.5" y2="220.0" stroke="#231f20" stroke-width="1.0"/>
<line x1="992.3" y1="358.5" x2="992.3" y2="767.0" stroke="#231f20" stroke-width="1.0"/>
<polygon points="371.9,521.4 415.7,529.5 413.8,506.1" fill="#231f20"/>
<polygon points="1068.0,463.5 1024.2,455.4 1026.1,478.8" fill="#231f20"/>
<line x1="400.0" y1="519.0" x2="675.0" y2="497.0" stroke="#231f20" stroke-width="0.9"/>
<line x1="769.0" y1="488.0" x2="1040.0" y2="466.0" stroke="#231f20" stroke-width="0.9"/>
<text transform="translate(721.5,491.5) rotate(-4.75)" x="0" y="13.3" text-anchor="middle" font-size="37" fill="#231f20">76,0</text>
<line x1="369.3" y1="492.2" x2="384.5" y2="670.4" stroke="#231f20" stroke-width="0.9"/>
<line x1="1066.0" y1="434.0" x2="1080.5" y2="612.0" stroke="#231f20" stroke-width="0.9"/>
<polygon points="448.8,585.7 404.3,583.8 409.5,606.7" fill="#231f20"/>
<line x1="341.4" y1="610.2" x2="420.0" y2="592.2" stroke="#231f20" stroke-width="0.9"/>
<polygon points="579.9,554.3 624.5,555.8 619.0,532.9" fill="#231f20"/>
<line x1="610.0" y1="547.2" x2="686.5" y2="529.0" stroke="#231f20" stroke-width="0.9"/>
<line x1="441.8" y1="556.9" x2="471.5" y2="684.4" stroke="#231f20" stroke-width="0.9"/>
<line x1="573.2" y1="526.3" x2="602.9" y2="653.0" stroke="#231f20" stroke-width="0.9"/>
<text transform="translate(518.7,567.2) rotate(-13.00)" x="0" y="13.3" text-anchor="middle" font-size="37" fill="#231f20">18,0</text>
<polygon points="754.4,691.5 797.0,704.5 797.7,681.0" fill="#231f20"/>
<polygon points="981.5,698.3 938.9,685.3 938.2,708.8" fill="#231f20"/>
<line x1="780.0" y1="692.5" x2="827.1" y2="693.8" stroke="#231f20" stroke-width="0.9"/>
<line x1="917.2" y1="697.1" x2="950.0" y2="697.8" stroke="#231f20" stroke-width="0.9"/>
<text transform="translate(870.6,696.0) rotate(1.30)" x="0" y="13.3" text-anchor="middle" font-size="37" fill="#231f20">52,0</text>
<line x1="755.1" y1="662.0" x2="755.1" y2="712.0" stroke="#231f20" stroke-width="0.9"/>
<line x1="982.3" y1="670.3" x2="982.3" y2="720.3" stroke="#231f20" stroke-width="0.9"/>
<polygon points="708.6,826.2 752.8,831.8 749.5,808.6" fill="#231f20"/>
<polygon points="1085.2,773.0 1041.0,767.4 1044.3,790.6" fill="#231f20"/>
<line x1="730.0" y1="823.0" x2="851.9" y2="805.9" stroke="#231f20" stroke-width="0.9"/>
<line x1="945.0" y1="792.6" x2="1060.0" y2="776.5" stroke="#231f20" stroke-width="0.9"/>
<text transform="translate(898.7,799.5) rotate(-8.04)" x="0" y="13.3" text-anchor="middle" font-size="37" fill="#231f20">40,0</text>
<line x1="700.7" y1="776.6" x2="712.7" y2="855.4" stroke="#231f20" stroke-width="0.9"/>
<line x1="1078.3" y1="721.8" x2="1089.9" y2="800.4" stroke="#231f20" stroke-width="0.9"/>
<polygon points="1251.0,764.3 1284.3,794.0 1294.7,772.9" fill="#231f20"/>
<polygon points="1578.5,927.0 1545.2,897.3 1534.8,918.4" fill="#231f20"/>
<line x1="1280.0" y1="779.0" x2="1374.9" y2="825.6" stroke="#231f20" stroke-width="0.9"/>
<line x1="1457.9" y1="867.2" x2="1550.0" y2="913.0" stroke="#231f20" stroke-width="0.9"/>
<text transform="translate(1415.9,847.8) rotate(26.42)" x="0" y="13.3" text-anchor="middle" font-size="37" fill="#231f20">43,0</text>
<line x1="1263.2" y1="737.7" x2="1232.2" y2="799.7" stroke="#231f20" stroke-width="0.9"/>
<line x1="1592.9" y1="902.6" x2="1561.9" y2="964.2" stroke="#231f20" stroke-width="0.9"/>
<polygon points="1020.4,976.6 1065.0,976.9 1058.9,954.2" fill="#231f20"/>
<polygon points="1372.7,882.7 1328.1,882.4 1334.2,905.1" fill="#231f20"/>
<line x1="1050.0" y1="969.0" x2="1156.7" y2="941.0" stroke="#231f20" stroke-width="0.9"/>
<line x1="1241.5" y1="917.5" x2="1345.0" y2="890.0" stroke="#231f20" stroke-width="0.9"/>
<text transform="translate(1202.1,927.5) rotate(-14.92)" x="0" y="13.3" text-anchor="middle" font-size="37" fill="#231f20">48,0</text>
<line x1="1018.9" y1="973.6" x2="1027.3" y2="1006.1" stroke="#231f20" stroke-width="0.9"/>
<line x1="1372.7" y1="878.3" x2="1381.6" y2="910.4" stroke="#231f20" stroke-width="0.9"/>
<polygon points="1664.4,955.3 1652.7,998.3 1676.2,998.3" fill="#231f20"/>
<polygon points="1664.4,1348.8 1676.2,1305.8 1652.7,1305.8" fill="#231f20"/>
<line x1="1664.4" y1="990.0" x2="1664.4" y2="1104.6" stroke="#231f20" stroke-width="0.9"/>
<line x1="1664.4" y1="1197.8" x2="1664.4" y2="1315.0" stroke="#231f20" stroke-width="0.9"/>
<text transform="translate(1663.6,1150.2) rotate(-90.00)" x="0" y="13.3" text-anchor="middle" font-size="37" fill="#231f20">44,0</text>
<line x1="1630.0" y1="954.6" x2="1693.6" y2="954.6" stroke="#555" stroke-width="1.4"/>
<line x1="1630.0" y1="1349.4" x2="1693.6" y2="1349.4" stroke="#555" stroke-width="1.4"/>
<polygon points="1190.6,1266.2 1226.9,1292.1 1235.0,1270.1" fill="#231f20"/>
<polygon points="1458.3,1364.9 1422.0,1339.0 1413.9,1361.0" fill="#231f20"/>
<line x1="1220.0" y1="1277.0" x2="1281.8" y2="1299.4" stroke="#231f20" stroke-width="0.9"/>
<line x1="1369.2" y1="1331.7" x2="1430.0" y2="1354.0" stroke="#231f20" stroke-width="0.9"/>
<text transform="translate(1325.1,1315.6) rotate(20.24)" x="0" y="13.3" text-anchor="middle" font-size="37" fill="#231f20">31,0</text>
<line x1="1192.7" y1="1257.5" x2="1180.5" y2="1293.3" stroke="#231f20" stroke-width="0.9"/>
<line x1="1461.5" y1="1357.4" x2="1448.7" y2="1393.4" stroke="#231f20" stroke-width="0.9"/>
<polygon points="560.7,1284.1 602.1,1267.5 587.9,1248.7" fill="#231f20"/>
<polygon points="801.2,1101.6 759.8,1118.2 774.0,1137.0" fill="#231f20"/>
<line x1="590.0" y1="1262.0" x2="645.0" y2="1220.6" stroke="#231f20" stroke-width="0.9"/>
<line x1="719.6" y1="1162.2" x2="780.0" y2="1116.5" stroke="#231f20" stroke-width="0.9"/>
<text transform="translate(682.6,1191.5) rotate(-37.19)" x="0" y="13.3" text-anchor="middle" font-size="37" fill="#231f20">41,0</text>
<line x1="543.2" y1="1261.3" x2="578.3" y2="1308.7" stroke="#231f20" stroke-width="0.9"/>
<line x1="784.5" y1="1077.9" x2="819.6" y2="1123.5" stroke="#231f20" stroke-width="0.9"/>
</g>
<text x="122.9" y="96.6" font-size="104" letter-spacing="-2.7" fill="#231f20">PESTO</text>
</svg>
</body></html>
